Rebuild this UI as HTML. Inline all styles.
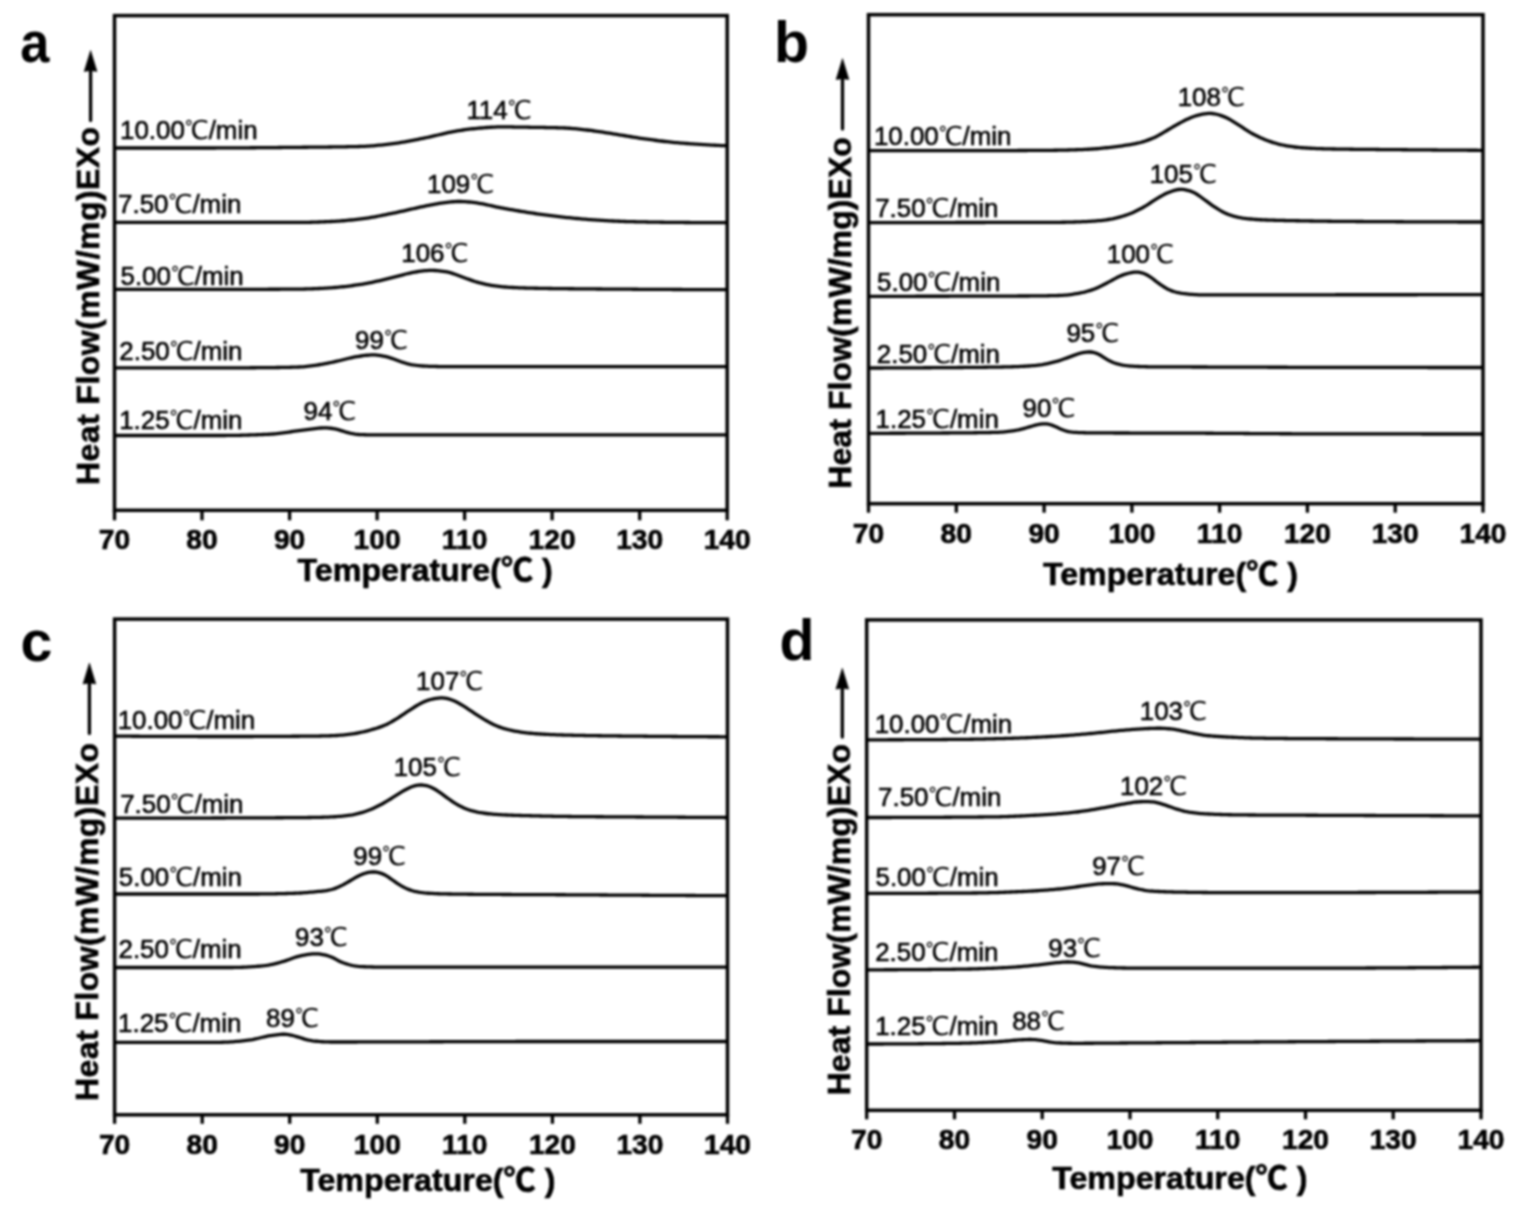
<!DOCTYPE html>
<html lang="en"><head><meta charset="utf-8"><title>DSC heat flow curves</title>
<style>html,body{margin:0;padding:0;background:#fff}body{width:1529px;height:1214px;overflow:hidden}svg{display:block}svg{filter:blur(0.8px)}text{stroke:#000;stroke-width:0.6px;fill:#000;font-family:"Liberation Sans","WenQuanYi Zen Hei",sans-serif}.dg{stroke-width:0}.lab{font-size:25.9px}.tick{font-size:28.2px;font-weight:bold;text-anchor:middle}.ax{font-size:32.2px;font-weight:bold;font-family:"Liberation Sans","Noto Sans CJK SC",sans-serif}.yl{font-size:32.0px;font-weight:bold}.let{font-size:57.3px;font-weight:bold;fill:#000;stroke-width:0}.fr{fill:none;stroke:#000;stroke-width:3.5}.cv{fill:none;stroke:#000;stroke-width:3.3;stroke-linejoin:round;stroke-linecap:butt}.tk{stroke:#000;stroke-width:3.3}.ar{stroke:#000;stroke-width:3.3;stroke-linecap:round}</style></head><body>
<svg width="1529" height="1214" viewBox="0 0 1529 1214">
<rect width="1529" height="1214" fill="#fff"/>
<g id="panel-a">
<path class="cv" d="M115.0,148.00 L117.0,148.00 L119.0,148.00 L121.0,148.00 L123.0,148.00 L125.0,148.00 L127.0,148.00 L129.0,148.00 L131.0,148.00 L133.0,148.00 L135.0,148.00 L137.0,148.00 L139.0,148.00 L141.0,148.00 L143.0,148.00 L145.0,148.00 L147.0,148.00 L149.0,148.00 L151.0,148.00 L153.0,148.00 L155.0,148.00 L157.0,148.00 L159.0,148.00 L161.0,148.00 L163.0,148.00 L165.0,148.00 L167.0,148.00 L169.0,148.00 L171.0,148.00 L173.0,148.00 L175.0,148.00 L177.0,148.00 L179.0,148.00 L181.0,148.00 L183.0,148.00 L185.0,148.00 L187.0,148.00 L189.0,148.00 L191.0,148.00 L193.0,148.00 L195.0,148.00 L197.0,148.00 L199.0,148.00 L201.0,148.00 L203.0,148.00 L205.0,148.00 L207.0,147.99 L209.0,147.99 L211.0,147.99 L213.0,147.98 L215.0,147.98 L217.0,147.97 L219.0,147.96 L221.0,147.95 L223.0,147.94 L225.0,147.94 L227.0,147.93 L229.0,147.91 L231.0,147.90 L233.0,147.89 L235.0,147.88 L237.0,147.87 L239.0,147.85 L241.0,147.84 L243.0,147.82 L245.0,147.81 L247.0,147.79 L249.0,147.78 L251.0,147.76 L253.0,147.75 L255.0,147.73 L257.0,147.71 L259.0,147.69 L261.0,147.68 L263.0,147.66 L265.0,147.64 L267.0,147.62 L269.0,147.60 L271.0,147.58 L273.0,147.56 L275.0,147.55 L277.0,147.53 L279.0,147.51 L281.0,147.49 L283.0,147.47 L285.0,147.45 L287.0,147.43 L289.0,147.41 L291.0,147.39 L293.0,147.37 L295.0,147.35 L297.0,147.33 L299.0,147.31 L301.0,147.29 L303.0,147.27 L305.0,147.25 L307.0,147.23 L309.0,147.22 L311.0,147.20 L313.0,147.18 L315.0,147.16 L317.0,147.14 L319.0,147.12 L321.0,147.10 L323.0,147.08 L325.0,147.06 L327.0,147.04 L329.0,147.01 L331.0,146.99 L333.0,146.96 L335.0,146.94 L337.0,146.91 L339.0,146.88 L341.0,146.85 L343.0,146.82 L345.0,146.78 L347.0,146.75 L349.0,146.71 L351.0,146.67 L353.0,146.63 L355.0,146.59 L357.0,146.54 L359.0,146.49 L361.0,146.43 L363.0,146.37 L365.0,146.29 L367.0,146.20 L369.0,146.08 L371.0,145.94 L373.0,145.79 L375.0,145.62 L377.0,145.43 L379.0,145.23 L381.0,145.02 L383.0,144.80 L385.0,144.57 L387.0,144.34 L389.0,144.10 L391.0,143.85 L393.0,143.60 L395.0,143.34 L397.0,143.07 L399.0,142.78 L401.0,142.47 L403.0,142.15 L405.0,141.81 L407.0,141.45 L409.0,141.09 L411.0,140.71 L413.0,140.32 L415.0,139.93 L417.0,139.54 L419.0,139.14 L421.0,138.74 L423.0,138.34 L425.0,137.93 L427.0,137.51 L429.0,137.09 L431.0,136.64 L433.0,136.18 L435.0,135.72 L437.0,135.24 L439.0,134.76 L441.0,134.28 L443.0,133.81 L445.0,133.34 L447.0,132.89 L449.0,132.46 L451.0,132.04 L453.0,131.65 L455.0,131.28 L457.0,130.94 L459.0,130.61 L461.0,130.30 L463.0,130.00 L465.0,129.72 L467.0,129.45 L469.0,129.19 L471.0,128.96 L473.0,128.74 L475.0,128.54 L477.0,128.35 L479.0,128.17 L481.0,127.99 L483.0,127.82 L485.0,127.66 L487.0,127.50 L489.0,127.36 L491.0,127.23 L493.0,127.12 L495.0,127.04 L497.0,126.97 L499.0,126.93 L501.0,126.92 L503.0,126.91 L505.0,126.92 L507.0,126.93 L509.0,126.95 L511.0,126.97 L513.0,127.00 L515.0,127.03 L517.0,127.06 L519.0,127.09 L521.0,127.12 L523.0,127.16 L525.0,127.19 L527.0,127.22 L529.0,127.26 L531.0,127.29 L533.0,127.32 L535.0,127.35 L537.0,127.38 L539.0,127.41 L541.0,127.44 L543.0,127.47 L545.0,127.50 L547.0,127.53 L549.0,127.57 L551.0,127.60 L553.0,127.65 L555.0,127.69 L557.0,127.74 L559.0,127.79 L561.0,127.85 L563.0,127.92 L565.0,128.01 L567.0,128.11 L569.0,128.24 L571.0,128.39 L573.0,128.55 L575.0,128.73 L577.0,128.93 L579.0,129.13 L581.0,129.34 L583.0,129.56 L585.0,129.78 L587.0,130.01 L589.0,130.24 L591.0,130.48 L593.0,130.74 L595.0,131.02 L597.0,131.30 L599.0,131.60 L601.0,131.91 L603.0,132.22 L605.0,132.54 L607.0,132.85 L609.0,133.17 L611.0,133.49 L613.0,133.80 L615.0,134.12 L617.0,134.43 L619.0,134.76 L621.0,135.09 L623.0,135.42 L625.0,135.75 L627.0,136.08 L629.0,136.42 L631.0,136.75 L633.0,137.07 L635.0,137.39 L637.0,137.71 L639.0,138.02 L641.0,138.32 L643.0,138.61 L645.0,138.89 L647.0,139.17 L649.0,139.44 L651.0,139.72 L653.0,139.98 L655.0,140.25 L657.0,140.51 L659.0,140.77 L661.0,141.01 L663.0,141.26 L665.0,141.49 L667.0,141.72 L669.0,141.94 L671.0,142.15 L673.0,142.35 L675.0,142.54 L677.0,142.71 L679.0,142.89 L681.0,143.05 L683.0,143.21 L685.0,143.37 L687.0,143.52 L689.0,143.66 L691.0,143.80 L693.0,143.94 L695.0,144.07 L697.0,144.20 L699.0,144.33 L701.0,144.45 L703.0,144.57 L705.0,144.69 L707.0,144.80 L709.0,144.92 L711.0,145.03 L713.0,145.13 L715.0,145.24 L717.0,145.34 L719.0,145.44 L721.0,145.53 L723.0,145.62 L725.0,145.69 L727.0,145.75"/>
<path class="cv" d="M115.0,222.30 L117.0,222.30 L119.0,222.31 L121.0,222.31 L123.0,222.31 L125.0,222.31 L127.0,222.31 L129.0,222.32 L131.0,222.32 L133.0,222.32 L135.0,222.32 L137.0,222.33 L139.0,222.33 L141.0,222.33 L143.0,222.33 L145.0,222.34 L147.0,222.34 L149.0,222.34 L151.0,222.34 L153.0,222.34 L155.0,222.35 L157.0,222.35 L159.0,222.35 L161.0,222.35 L163.0,222.35 L165.0,222.36 L167.0,222.36 L169.0,222.36 L171.0,222.36 L173.0,222.36 L175.0,222.37 L177.0,222.37 L179.0,222.37 L181.0,222.37 L183.0,222.37 L185.0,222.37 L187.0,222.38 L189.0,222.38 L191.0,222.38 L193.0,222.38 L195.0,222.38 L197.0,222.38 L199.0,222.38 L201.0,222.38 L203.0,222.39 L205.0,222.39 L207.0,222.39 L209.0,222.39 L211.0,222.39 L213.0,222.39 L215.0,222.39 L217.0,222.39 L219.0,222.39 L221.0,222.39 L223.0,222.40 L225.0,222.40 L227.0,222.40 L229.0,222.40 L231.0,222.40 L233.0,222.40 L235.0,222.40 L237.0,222.40 L239.0,222.40 L241.0,222.40 L243.0,222.40 L245.0,222.40 L247.0,222.40 L249.0,222.40 L251.0,222.40 L253.0,222.40 L255.0,222.40 L257.0,222.40 L259.0,222.40 L261.0,222.40 L263.0,222.40 L265.0,222.40 L267.0,222.40 L269.0,222.40 L271.0,222.40 L273.0,222.40 L275.0,222.40 L277.0,222.40 L279.0,222.40 L281.0,222.40 L283.0,222.40 L285.0,222.40 L287.0,222.40 L289.0,222.40 L291.0,222.40 L293.0,222.40 L295.0,222.40 L297.0,222.40 L299.0,222.40 L301.0,222.39 L303.0,222.38 L305.0,222.36 L307.0,222.33 L309.0,222.29 L311.0,222.25 L313.0,222.19 L315.0,222.13 L317.0,222.07 L319.0,222.00 L321.0,221.93 L323.0,221.85 L325.0,221.77 L327.0,221.68 L329.0,221.60 L331.0,221.51 L333.0,221.41 L335.0,221.30 L337.0,221.18 L339.0,221.04 L341.0,220.89 L343.0,220.74 L345.0,220.56 L347.0,220.38 L349.0,220.19 L351.0,219.99 L353.0,219.78 L355.0,219.57 L357.0,219.35 L359.0,219.12 L361.0,218.88 L363.0,218.63 L365.0,218.37 L367.0,218.09 L369.0,217.78 L371.0,217.46 L373.0,217.12 L375.0,216.76 L377.0,216.39 L379.0,216.00 L381.0,215.61 L383.0,215.21 L385.0,214.81 L387.0,214.40 L389.0,213.99 L391.0,213.59 L393.0,213.18 L395.0,212.77 L397.0,212.35 L399.0,211.92 L401.0,211.48 L403.0,211.04 L405.0,210.59 L407.0,210.13 L409.0,209.67 L411.0,209.21 L413.0,208.75 L415.0,208.29 L417.0,207.85 L419.0,207.41 L421.0,206.98 L423.0,206.56 L425.0,206.14 L427.0,205.74 L429.0,205.33 L431.0,204.93 L433.0,204.53 L435.0,204.15 L437.0,203.78 L439.0,203.44 L441.0,203.13 L443.0,202.85 L445.0,202.60 L447.0,202.36 L449.0,202.14 L451.0,201.94 L453.0,201.76 L455.0,201.62 L457.0,201.52 L459.0,201.47 L461.0,201.48 L463.0,201.55 L465.0,201.66 L467.0,201.82 L469.0,202.01 L471.0,202.22 L473.0,202.45 L475.0,202.69 L477.0,202.96 L479.0,203.26 L481.0,203.60 L483.0,203.98 L485.0,204.39 L487.0,204.82 L489.0,205.26 L491.0,205.71 L493.0,206.16 L495.0,206.60 L497.0,207.02 L499.0,207.43 L501.0,207.81 L503.0,208.19 L505.0,208.55 L507.0,208.92 L509.0,209.27 L511.0,209.63 L513.0,209.98 L515.0,210.32 L517.0,210.67 L519.0,211.00 L521.0,211.33 L523.0,211.66 L525.0,211.98 L527.0,212.29 L529.0,212.60 L531.0,212.90 L533.0,213.20 L535.0,213.50 L537.0,213.78 L539.0,214.07 L541.0,214.35 L543.0,214.63 L545.0,214.90 L547.0,215.17 L549.0,215.44 L551.0,215.69 L553.0,215.95 L555.0,216.19 L557.0,216.43 L559.0,216.66 L561.0,216.89 L563.0,217.10 L565.0,217.32 L567.0,217.53 L569.0,217.73 L571.0,217.93 L573.0,218.13 L575.0,218.32 L577.0,218.51 L579.0,218.70 L581.0,218.87 L583.0,219.05 L585.0,219.21 L587.0,219.37 L589.0,219.53 L591.0,219.67 L593.0,219.81 L595.0,219.95 L597.0,220.08 L599.0,220.21 L601.0,220.33 L603.0,220.45 L605.0,220.57 L607.0,220.68 L609.0,220.80 L611.0,220.90 L613.0,221.00 L615.0,221.10 L617.0,221.19 L619.0,221.27 L621.0,221.35 L623.0,221.42 L625.0,221.48 L627.0,221.54 L629.0,221.59 L631.0,221.64 L633.0,221.69 L635.0,221.74 L637.0,221.79 L639.0,221.83 L641.0,221.88 L643.0,221.92 L645.0,221.96 L647.0,222.00 L649.0,222.04 L651.0,222.07 L653.0,222.11 L655.0,222.14 L657.0,222.17 L659.0,222.20 L661.0,222.23 L663.0,222.26 L665.0,222.29 L667.0,222.31 L669.0,222.33 L671.0,222.35 L673.0,222.37 L675.0,222.39 L677.0,222.41 L679.0,222.43 L681.0,222.45 L683.0,222.46 L685.0,222.48 L687.0,222.50 L689.0,222.51 L691.0,222.53 L693.0,222.55 L695.0,222.56 L697.0,222.58 L699.0,222.59 L701.0,222.60 L703.0,222.62 L705.0,222.63 L707.0,222.64 L709.0,222.65 L711.0,222.66 L713.0,222.67 L715.0,222.68 L717.0,222.68 L719.0,222.69 L721.0,222.69 L723.0,222.70 L725.0,222.70 L727.0,222.70"/>
<path class="cv" d="M115.0,289.30 L117.0,289.30 L119.0,289.30 L121.0,289.30 L123.0,289.30 L125.0,289.30 L127.0,289.30 L129.0,289.30 L131.0,289.30 L133.0,289.30 L135.0,289.30 L137.0,289.30 L139.0,289.30 L141.0,289.30 L143.0,289.30 L145.0,289.30 L147.0,289.30 L149.0,289.30 L151.0,289.30 L153.0,289.30 L155.0,289.30 L157.0,289.30 L159.0,289.30 L161.0,289.30 L163.0,289.30 L165.0,289.30 L167.0,289.30 L169.0,289.30 L171.0,289.30 L173.0,289.30 L175.0,289.30 L177.0,289.30 L179.0,289.30 L181.0,289.30 L183.0,289.30 L185.0,289.30 L187.0,289.30 L189.0,289.30 L191.0,289.30 L193.0,289.30 L195.0,289.30 L197.0,289.30 L199.0,289.30 L201.0,289.30 L203.0,289.30 L205.0,289.30 L207.0,289.30 L209.0,289.30 L211.0,289.30 L213.0,289.30 L215.0,289.30 L217.0,289.30 L219.0,289.30 L221.0,289.30 L223.0,289.30 L225.0,289.30 L227.0,289.30 L229.0,289.30 L231.0,289.30 L233.0,289.30 L235.0,289.30 L237.0,289.30 L239.0,289.30 L241.0,289.30 L243.0,289.30 L245.0,289.30 L247.0,289.30 L249.0,289.30 L251.0,289.30 L253.0,289.30 L255.0,289.30 L257.0,289.30 L259.0,289.29 L261.0,289.29 L263.0,289.29 L265.0,289.28 L267.0,289.28 L269.0,289.27 L271.0,289.26 L273.0,289.26 L275.0,289.25 L277.0,289.24 L279.0,289.23 L281.0,289.22 L283.0,289.21 L285.0,289.20 L287.0,289.19 L289.0,289.18 L291.0,289.16 L293.0,289.15 L295.0,289.14 L297.0,289.12 L299.0,289.10 L301.0,289.08 L303.0,289.05 L305.0,289.01 L307.0,288.96 L309.0,288.91 L311.0,288.84 L313.0,288.76 L315.0,288.68 L317.0,288.59 L319.0,288.49 L321.0,288.39 L323.0,288.28 L325.0,288.17 L327.0,288.06 L329.0,287.94 L331.0,287.81 L333.0,287.67 L335.0,287.52 L337.0,287.35 L339.0,287.17 L341.0,286.97 L343.0,286.76 L345.0,286.53 L347.0,286.29 L349.0,286.04 L351.0,285.78 L353.0,285.51 L355.0,285.22 L357.0,284.94 L359.0,284.64 L361.0,284.33 L363.0,284.02 L365.0,283.68 L367.0,283.32 L369.0,282.94 L371.0,282.54 L373.0,282.12 L375.0,281.68 L377.0,281.23 L379.0,280.77 L381.0,280.29 L383.0,279.81 L385.0,279.33 L387.0,278.85 L389.0,278.37 L391.0,277.89 L393.0,277.40 L395.0,276.91 L397.0,276.41 L399.0,275.89 L401.0,275.35 L403.0,274.81 L405.0,274.28 L407.0,273.76 L409.0,273.28 L411.0,272.83 L413.0,272.43 L415.0,272.07 L417.0,271.75 L419.0,271.46 L421.0,271.19 L423.0,270.94 L425.0,270.72 L427.0,270.55 L429.0,270.44 L431.0,270.38 L433.0,270.40 L435.0,270.48 L437.0,270.62 L439.0,270.81 L441.0,271.04 L443.0,271.31 L445.0,271.61 L447.0,271.97 L449.0,272.41 L451.0,272.94 L453.0,273.57 L455.0,274.27 L457.0,275.02 L459.0,275.77 L461.0,276.52 L463.0,277.25 L465.0,277.97 L467.0,278.69 L469.0,279.41 L471.0,280.12 L473.0,280.82 L475.0,281.50 L477.0,282.12 L479.0,282.70 L481.0,283.22 L483.0,283.70 L485.0,284.14 L487.0,284.55 L489.0,284.94 L491.0,285.30 L493.0,285.63 L495.0,285.93 L497.0,286.20 L499.0,286.43 L501.0,286.64 L503.0,286.82 L505.0,286.99 L507.0,287.14 L509.0,287.28 L511.0,287.40 L513.0,287.52 L515.0,287.62 L517.0,287.71 L519.0,287.79 L521.0,287.86 L523.0,287.92 L525.0,287.98 L527.0,288.04 L529.0,288.09 L531.0,288.14 L533.0,288.19 L535.0,288.23 L537.0,288.27 L539.0,288.31 L541.0,288.35 L543.0,288.38 L545.0,288.42 L547.0,288.45 L549.0,288.48 L551.0,288.51 L553.0,288.53 L555.0,288.56 L557.0,288.59 L559.0,288.61 L561.0,288.64 L563.0,288.66 L565.0,288.68 L567.0,288.71 L569.0,288.73 L571.0,288.75 L573.0,288.77 L575.0,288.79 L577.0,288.81 L579.0,288.83 L581.0,288.85 L583.0,288.87 L585.0,288.88 L587.0,288.90 L589.0,288.92 L591.0,288.94 L593.0,288.95 L595.0,288.97 L597.0,288.98 L599.0,289.00 L601.0,289.01 L603.0,289.03 L605.0,289.04 L607.0,289.06 L609.0,289.07 L611.0,289.09 L613.0,289.10 L615.0,289.11 L617.0,289.13 L619.0,289.14 L621.0,289.16 L623.0,289.17 L625.0,289.18 L627.0,289.20 L629.0,289.21 L631.0,289.22 L633.0,289.24 L635.0,289.25 L637.0,289.26 L639.0,289.28 L641.0,289.29 L643.0,289.30 L645.0,289.31 L647.0,289.33 L649.0,289.34 L651.0,289.35 L653.0,289.36 L655.0,289.38 L657.0,289.39 L659.0,289.40 L661.0,289.41 L663.0,289.42 L665.0,289.44 L667.0,289.45 L669.0,289.46 L671.0,289.47 L673.0,289.48 L675.0,289.49 L677.0,289.50 L679.0,289.51 L681.0,289.52 L683.0,289.53 L685.0,289.54 L687.0,289.55 L689.0,289.56 L691.0,289.57 L693.0,289.58 L695.0,289.59 L697.0,289.60 L699.0,289.61 L701.0,289.61 L703.0,289.62 L705.0,289.63 L707.0,289.64 L709.0,289.64 L711.0,289.65 L713.0,289.66 L715.0,289.67 L717.0,289.67 L719.0,289.68 L721.0,289.68 L723.0,289.69 L725.0,289.69 L727.0,289.70"/>
<path class="cv" d="M115.0,367.90 L117.0,367.90 L119.0,367.90 L121.0,367.90 L123.0,367.90 L125.0,367.90 L127.0,367.90 L129.0,367.90 L131.0,367.90 L133.0,367.90 L135.0,367.90 L137.0,367.90 L139.0,367.90 L141.0,367.90 L143.0,367.90 L145.0,367.90 L147.0,367.90 L149.0,367.90 L151.0,367.90 L153.0,367.90 L155.0,367.90 L157.0,367.90 L159.0,367.90 L161.0,367.90 L163.0,367.90 L165.0,367.90 L167.0,367.90 L169.0,367.90 L171.0,367.90 L173.0,367.90 L175.0,367.90 L177.0,367.90 L179.0,367.90 L181.0,367.90 L183.0,367.90 L185.0,367.90 L187.0,367.90 L189.0,367.90 L191.0,367.90 L193.0,367.90 L195.0,367.90 L197.0,367.90 L199.0,367.90 L201.0,367.90 L203.0,367.90 L205.0,367.90 L207.0,367.90 L209.0,367.90 L211.0,367.90 L213.0,367.90 L215.0,367.90 L217.0,367.90 L219.0,367.90 L221.0,367.90 L223.0,367.90 L225.0,367.89 L227.0,367.89 L229.0,367.89 L231.0,367.88 L233.0,367.87 L235.0,367.86 L237.0,367.86 L239.0,367.85 L241.0,367.83 L243.0,367.82 L245.0,367.81 L247.0,367.80 L249.0,367.78 L251.0,367.77 L253.0,367.75 L255.0,367.74 L257.0,367.72 L259.0,367.70 L261.0,367.68 L263.0,367.67 L265.0,367.65 L267.0,367.63 L269.0,367.61 L271.0,367.59 L273.0,367.57 L275.0,367.54 L277.0,367.52 L279.0,367.49 L281.0,367.46 L283.0,367.43 L285.0,367.40 L287.0,367.36 L289.0,367.31 L291.0,367.27 L293.0,367.21 L295.0,367.16 L297.0,367.09 L299.0,367.01 L301.0,366.92 L303.0,366.79 L305.0,366.62 L307.0,366.42 L309.0,366.18 L311.0,365.93 L313.0,365.65 L315.0,365.36 L317.0,365.06 L319.0,364.75 L321.0,364.43 L323.0,364.09 L325.0,363.72 L327.0,363.33 L329.0,362.93 L331.0,362.51 L333.0,362.09 L335.0,361.66 L337.0,361.21 L339.0,360.75 L341.0,360.27 L343.0,359.77 L345.0,359.26 L347.0,358.75 L349.0,358.25 L351.0,357.78 L353.0,357.35 L355.0,356.97 L357.0,356.62 L359.0,356.30 L361.0,356.00 L363.0,355.72 L365.0,355.46 L367.0,355.24 L369.0,355.06 L371.0,354.95 L373.0,354.91 L375.0,354.96 L377.0,355.10 L379.0,355.34 L381.0,355.66 L383.0,356.04 L385.0,356.46 L387.0,356.93 L389.0,357.46 L391.0,358.08 L393.0,358.78 L395.0,359.53 L397.0,360.31 L399.0,361.07 L401.0,361.79 L403.0,362.44 L405.0,363.03 L407.0,363.58 L409.0,364.08 L411.0,364.53 L413.0,364.91 L415.0,365.22 L417.0,365.47 L419.0,365.67 L421.0,365.84 L423.0,365.99 L425.0,366.12 L427.0,366.22 L429.0,366.31 L431.0,366.37 L433.0,366.42 L435.0,366.47 L437.0,366.51 L439.0,366.54 L441.0,366.57 L443.0,366.60 L445.0,366.62 L447.0,366.65 L449.0,366.66 L451.0,366.68 L453.0,366.69 L455.0,366.69 L457.0,366.70 L459.0,366.70 L461.0,366.70 L463.0,366.70 L465.0,366.70 L467.0,366.70 L469.0,366.70 L471.0,366.70 L473.0,366.70 L475.0,366.70 L477.0,366.70 L479.0,366.70 L481.0,366.70 L483.0,366.70 L485.0,366.70 L487.0,366.70 L489.0,366.70 L491.0,366.70 L493.0,366.70 L495.0,366.70 L497.0,366.70 L499.0,366.70 L501.0,366.70 L503.0,366.70 L505.0,366.70 L507.0,366.70 L509.0,366.70 L511.0,366.70 L513.0,366.70 L515.0,366.70 L517.0,366.70 L519.0,366.70 L521.0,366.70 L523.0,366.70 L525.0,366.70 L527.0,366.70 L529.0,366.70 L531.0,366.70 L533.0,366.70 L535.0,366.70 L537.0,366.70 L539.0,366.70 L541.0,366.70 L543.0,366.70 L545.0,366.70 L547.0,366.70 L549.0,366.70 L551.0,366.70 L553.0,366.70 L555.0,366.70 L557.0,366.70 L559.0,366.70 L561.0,366.70 L563.0,366.70 L565.0,366.70 L567.0,366.70 L569.0,366.70 L571.0,366.70 L573.0,366.70 L575.0,366.70 L577.0,366.70 L579.0,366.70 L581.0,366.70 L583.0,366.70 L585.0,366.70 L587.0,366.70 L589.0,366.70 L591.0,366.70 L593.0,366.70 L595.0,366.70 L597.0,366.70 L599.0,366.70 L601.0,366.70 L603.0,366.70 L605.0,366.70 L607.0,366.70 L609.0,366.70 L611.0,366.70 L613.0,366.70 L615.0,366.70 L617.0,366.70 L619.0,366.70 L621.0,366.70 L623.0,366.70 L625.0,366.70 L627.0,366.70 L629.0,366.70 L631.0,366.70 L633.0,366.70 L635.0,366.70 L637.0,366.70 L639.0,366.70 L641.0,366.70 L643.0,366.70 L645.0,366.70 L647.0,366.70 L649.0,366.70 L651.0,366.70 L653.0,366.70 L655.0,366.70 L657.0,366.70 L659.0,366.70 L661.0,366.70 L663.0,366.70 L665.0,366.70 L667.0,366.70 L669.0,366.70 L671.0,366.70 L673.0,366.70 L675.0,366.70 L677.0,366.70 L679.0,366.70 L681.0,366.70 L683.0,366.70 L685.0,366.70 L687.0,366.70 L689.0,366.70 L691.0,366.70 L693.0,366.70 L695.0,366.70 L697.0,366.70 L699.0,366.70 L701.0,366.70 L703.0,366.70 L705.0,366.70 L707.0,366.70 L709.0,366.70 L711.0,366.70 L713.0,366.70 L715.0,366.70 L717.0,366.70 L719.0,366.70 L721.0,366.70 L723.0,366.70 L725.0,366.70 L727.0,366.70"/>
<path class="cv" d="M115.0,435.50 L117.0,435.50 L119.0,435.50 L121.0,435.50 L123.0,435.50 L125.0,435.50 L127.0,435.50 L129.0,435.50 L131.0,435.50 L133.0,435.50 L135.0,435.50 L137.0,435.50 L139.0,435.50 L141.0,435.50 L143.0,435.50 L145.0,435.50 L147.0,435.50 L149.0,435.50 L151.0,435.50 L153.0,435.50 L155.0,435.50 L157.0,435.50 L159.0,435.50 L161.0,435.50 L163.0,435.50 L165.0,435.50 L167.0,435.50 L169.0,435.50 L171.0,435.50 L173.0,435.50 L175.0,435.50 L177.0,435.50 L179.0,435.50 L181.0,435.50 L183.0,435.50 L185.0,435.50 L187.0,435.50 L189.0,435.50 L191.0,435.50 L193.0,435.50 L195.0,435.50 L197.0,435.50 L199.0,435.50 L201.0,435.50 L203.0,435.50 L205.0,435.50 L207.0,435.50 L209.0,435.50 L211.0,435.50 L213.0,435.50 L215.0,435.50 L217.0,435.50 L219.0,435.50 L221.0,435.50 L223.0,435.49 L225.0,435.48 L227.0,435.46 L229.0,435.44 L231.0,435.42 L233.0,435.39 L235.0,435.36 L237.0,435.32 L239.0,435.28 L241.0,435.23 L243.0,435.18 L245.0,435.13 L247.0,435.07 L249.0,435.01 L251.0,434.95 L253.0,434.88 L255.0,434.81 L257.0,434.74 L259.0,434.66 L261.0,434.58 L263.0,434.50 L265.0,434.42 L267.0,434.33 L269.0,434.23 L271.0,434.12 L273.0,433.98 L275.0,433.82 L277.0,433.62 L279.0,433.40 L281.0,433.16 L283.0,432.90 L285.0,432.62 L287.0,432.34 L289.0,432.05 L291.0,431.75 L293.0,431.46 L295.0,431.18 L297.0,430.90 L299.0,430.64 L301.0,430.38 L303.0,430.13 L305.0,429.89 L307.0,429.65 L309.0,429.41 L311.0,429.17 L313.0,428.92 L315.0,428.67 L317.0,428.42 L319.0,428.19 L321.0,427.99 L323.0,427.87 L325.0,427.82 L327.0,427.88 L329.0,428.03 L331.0,428.25 L333.0,428.55 L335.0,428.93 L337.0,429.39 L339.0,429.95 L341.0,430.56 L343.0,431.19 L345.0,431.79 L347.0,432.33 L349.0,432.83 L351.0,433.28 L353.0,433.68 L355.0,434.03 L357.0,434.30 L359.0,434.49 L361.0,434.61 L363.0,434.68 L365.0,434.74 L367.0,434.78 L369.0,434.82 L371.0,434.85 L373.0,434.87 L375.0,434.88 L377.0,434.89 L379.0,434.90 L381.0,434.90 L383.0,434.90 L385.0,434.90 L387.0,434.90 L389.0,434.90 L391.0,434.90 L393.0,434.90 L395.0,434.90 L397.0,434.90 L399.0,434.90 L401.0,434.90 L403.0,434.90 L405.0,434.90 L407.0,434.90 L409.0,434.90 L411.0,434.90 L413.0,434.90 L415.0,434.90 L417.0,434.90 L419.0,434.90 L421.0,434.90 L423.0,434.90 L425.0,434.90 L427.0,434.90 L429.0,434.90 L431.0,434.90 L433.0,434.90 L435.0,434.90 L437.0,434.90 L439.0,434.90 L441.0,434.90 L443.0,434.90 L445.0,434.90 L447.0,434.90 L449.0,434.90 L451.0,434.90 L453.0,434.90 L455.0,434.90 L457.0,434.90 L459.0,434.90 L461.0,434.90 L463.0,434.90 L465.0,434.90 L467.0,434.90 L469.0,434.90 L471.0,434.90 L473.0,434.90 L475.0,434.90 L477.0,434.90 L479.0,434.90 L481.0,434.90 L483.0,434.90 L485.0,434.90 L487.0,434.90 L489.0,434.90 L491.0,434.90 L493.0,434.90 L495.0,434.90 L497.0,434.90 L499.0,434.90 L501.0,434.90 L503.0,434.90 L505.0,434.90 L507.0,434.89 L509.0,434.89 L511.0,434.89 L513.0,434.89 L515.0,434.89 L517.0,434.89 L519.0,434.89 L521.0,434.89 L523.0,434.89 L525.0,434.89 L527.0,434.89 L529.0,434.89 L531.0,434.89 L533.0,434.89 L535.0,434.89 L537.0,434.89 L539.0,434.89 L541.0,434.89 L543.0,434.89 L545.0,434.89 L547.0,434.89 L549.0,434.89 L551.0,434.89 L553.0,434.89 L555.0,434.89 L557.0,434.89 L559.0,434.89 L561.0,434.89 L563.0,434.89 L565.0,434.88 L567.0,434.88 L569.0,434.88 L571.0,434.88 L573.0,434.88 L575.0,434.88 L577.0,434.88 L579.0,434.88 L581.0,434.88 L583.0,434.88 L585.0,434.88 L587.0,434.88 L589.0,434.88 L591.0,434.88 L593.0,434.88 L595.0,434.88 L597.0,434.88 L599.0,434.87 L601.0,434.87 L603.0,434.87 L605.0,434.87 L607.0,434.87 L609.0,434.87 L611.0,434.87 L613.0,434.87 L615.0,434.87 L617.0,434.87 L619.0,434.87 L621.0,434.87 L623.0,434.87 L625.0,434.86 L627.0,434.86 L629.0,434.86 L631.0,434.86 L633.0,434.86 L635.0,434.86 L637.0,434.86 L639.0,434.86 L641.0,434.86 L643.0,434.86 L645.0,434.86 L647.0,434.85 L649.0,434.85 L651.0,434.85 L653.0,434.85 L655.0,434.85 L657.0,434.85 L659.0,434.85 L661.0,434.85 L663.0,434.85 L665.0,434.84 L667.0,434.84 L669.0,434.84 L671.0,434.84 L673.0,434.84 L675.0,434.84 L677.0,434.84 L679.0,434.84 L681.0,434.83 L683.0,434.83 L685.0,434.83 L687.0,434.83 L689.0,434.83 L691.0,434.83 L693.0,434.83 L695.0,434.83 L697.0,434.82 L699.0,434.82 L701.0,434.82 L703.0,434.82 L705.0,434.82 L707.0,434.82 L709.0,434.81 L711.0,434.81 L713.0,434.81 L715.0,434.81 L717.0,434.81 L719.0,434.81 L721.0,434.81 L723.0,434.80 L725.0,434.80 L727.0,434.80"/>
<rect class="fr" x="114.5" y="15.6" width="612.7" height="494.7"/>
<line class="tk" x1="114.5" y1="510.3" x2="114.5" y2="520.3"/>
<text class="tick" x="114.5" y="549.3">70</text>
<line class="tk" x1="202.0" y1="510.3" x2="202.0" y2="520.3"/>
<text class="tick" x="202.0" y="549.3">80</text>
<line class="tk" x1="289.6" y1="510.3" x2="289.6" y2="520.3"/>
<text class="tick" x="289.6" y="549.3">90</text>
<line class="tk" x1="377.1" y1="510.3" x2="377.1" y2="520.3"/>
<text class="tick" x="377.1" y="549.3">100</text>
<line class="tk" x1="464.6" y1="510.3" x2="464.6" y2="520.3"/>
<text class="tick" x="464.6" y="549.3">110</text>
<line class="tk" x1="552.1" y1="510.3" x2="552.1" y2="520.3"/>
<text class="tick" x="552.1" y="549.3">120</text>
<line class="tk" x1="639.7" y1="510.3" x2="639.7" y2="520.3"/>
<text class="tick" x="639.7" y="549.3">130</text>
<line class="tk" x1="727.2" y1="510.3" x2="727.2" y2="520.3"/>
<text class="tick" x="727.2" y="549.3">140</text>
<text class="lab" x="120.0" y="139.1">10.00<tspan class="dg">℃</tspan>/min</text>
<text class="lab" x="466.4" y="119.1">114<tspan class="dg">℃</tspan></text>
<text class="lab" x="118.1" y="212.9">7.50<tspan class="dg">℃</tspan>/min</text>
<text class="lab" x="427.0" y="192.7">109<tspan class="dg">℃</tspan></text>
<text class="lab" x="120.5" y="284.7">5.00<tspan class="dg">℃</tspan>/min</text>
<text class="lab" x="401.3" y="261.5">106<tspan class="dg">℃</tspan></text>
<text class="lab" x="119.3" y="359.7">2.50<tspan class="dg">℃</tspan>/min</text>
<text class="lab" x="355.1" y="348.5">99<tspan class="dg">℃</tspan></text>
<text class="lab" x="119.2" y="429.0">1.25<tspan class="dg">℃</tspan>/min</text>
<text class="lab" x="303.5" y="420.2">94<tspan class="dg">℃</tspan></text>
<text class="ax" x="297.6" y="581.0">Temperature(℃ )</text>
<text class="yl" transform="translate(99.3,485.0) rotate(-90)" textLength="358.1" lengthAdjust="spacing">Heat Flow(mW/mg)EXo</text>
<line class="ar" x1="90.6" y1="120.4" x2="90.6" y2="64.5"/>
<path d="M90.6,50.5 L97.0,71.4 L90.6,70.6 L84.2,71.4 Z" fill="#000" stroke="#000" stroke-width="0.6" stroke-linejoin="round"/>
<text class="let" transform="translate(20.2,62.3) scale(0.915,1)">a</text>
</g>
<g id="panel-b">
<path class="cv" d="M868.5,150.60 L870.5,150.60 L872.5,150.60 L874.5,150.60 L876.5,150.60 L878.5,150.60 L880.5,150.60 L882.5,150.60 L884.5,150.60 L886.5,150.60 L888.5,150.60 L890.5,150.60 L892.5,150.60 L894.5,150.60 L896.5,150.60 L898.5,150.60 L900.5,150.60 L902.5,150.60 L904.5,150.60 L906.5,150.60 L908.5,150.60 L910.5,150.60 L912.5,150.60 L914.5,150.60 L916.5,150.60 L918.5,150.60 L920.5,150.60 L922.5,150.60 L924.5,150.60 L926.5,150.60 L928.5,150.60 L930.5,150.60 L932.5,150.60 L934.5,150.60 L936.5,150.60 L938.5,150.60 L940.5,150.60 L942.5,150.60 L944.5,150.60 L946.5,150.60 L948.5,150.60 L950.5,150.60 L952.5,150.60 L954.5,150.60 L956.5,150.60 L958.5,150.60 L960.5,150.60 L962.5,150.60 L964.5,150.60 L966.5,150.60 L968.5,150.60 L970.5,150.60 L972.5,150.60 L974.5,150.60 L976.5,150.60 L978.5,150.60 L980.5,150.60 L982.5,150.60 L984.5,150.60 L986.5,150.60 L988.5,150.60 L990.5,150.60 L992.5,150.60 L994.5,150.60 L996.5,150.60 L998.5,150.59 L1000.5,150.59 L1002.5,150.59 L1004.5,150.58 L1006.5,150.57 L1008.5,150.57 L1010.5,150.56 L1012.5,150.55 L1014.5,150.54 L1016.5,150.53 L1018.5,150.52 L1020.5,150.51 L1022.5,150.50 L1024.5,150.49 L1026.5,150.48 L1028.5,150.47 L1030.5,150.46 L1032.5,150.45 L1034.5,150.43 L1036.5,150.42 L1038.5,150.41 L1040.5,150.40 L1042.5,150.38 L1044.5,150.37 L1046.5,150.35 L1048.5,150.33 L1050.5,150.31 L1052.5,150.29 L1054.5,150.27 L1056.5,150.25 L1058.5,150.22 L1060.5,150.19 L1062.5,150.15 L1064.5,150.11 L1066.5,150.07 L1068.5,150.02 L1070.5,149.96 L1072.5,149.90 L1074.5,149.84 L1076.5,149.77 L1078.5,149.69 L1080.5,149.62 L1082.5,149.53 L1084.5,149.44 L1086.5,149.35 L1088.5,149.25 L1090.5,149.14 L1092.5,149.02 L1094.5,148.88 L1096.5,148.73 L1098.5,148.56 L1100.5,148.38 L1102.5,148.18 L1104.5,147.98 L1106.5,147.76 L1108.5,147.53 L1110.5,147.29 L1112.5,147.05 L1114.5,146.81 L1116.5,146.55 L1118.5,146.30 L1120.5,146.04 L1122.5,145.77 L1124.5,145.49 L1126.5,145.20 L1128.5,144.89 L1130.5,144.56 L1132.5,144.21 L1134.5,143.84 L1136.5,143.43 L1138.5,142.98 L1140.5,142.48 L1142.5,141.93 L1144.5,141.31 L1146.5,140.63 L1148.5,139.90 L1150.5,139.12 L1152.5,138.29 L1154.5,137.40 L1156.5,136.44 L1158.5,135.40 L1160.5,134.29 L1162.5,133.12 L1164.5,131.92 L1166.5,130.72 L1168.5,129.53 L1170.5,128.35 L1172.5,127.17 L1174.5,126.00 L1176.5,124.84 L1178.5,123.72 L1180.5,122.63 L1182.5,121.59 L1184.5,120.58 L1186.5,119.60 L1188.5,118.66 L1190.5,117.78 L1192.5,116.98 L1194.5,116.27 L1196.5,115.66 L1198.5,115.12 L1200.5,114.64 L1202.5,114.22 L1204.5,113.85 L1206.5,113.58 L1208.5,113.42 L1210.5,113.39 L1212.5,113.52 L1214.5,113.81 L1216.5,114.24 L1218.5,114.78 L1220.5,115.41 L1222.5,116.10 L1224.5,116.88 L1226.5,117.76 L1228.5,118.77 L1230.5,119.89 L1232.5,121.10 L1234.5,122.35 L1236.5,123.62 L1238.5,124.89 L1240.5,126.18 L1242.5,127.49 L1244.5,128.81 L1246.5,130.11 L1248.5,131.37 L1250.5,132.58 L1252.5,133.71 L1254.5,134.79 L1256.5,135.81 L1258.5,136.79 L1260.5,137.72 L1262.5,138.59 L1264.5,139.42 L1266.5,140.20 L1268.5,140.94 L1270.5,141.65 L1272.5,142.32 L1274.5,142.95 L1276.5,143.53 L1278.5,144.07 L1280.5,144.55 L1282.5,144.99 L1284.5,145.39 L1286.5,145.77 L1288.5,146.12 L1290.5,146.44 L1292.5,146.74 L1294.5,147.01 L1296.5,147.24 L1298.5,147.44 L1300.5,147.61 L1302.5,147.76 L1304.5,147.90 L1306.5,148.02 L1308.5,148.14 L1310.5,148.25 L1312.5,148.35 L1314.5,148.44 L1316.5,148.53 L1318.5,148.61 L1320.5,148.68 L1322.5,148.75 L1324.5,148.80 L1326.5,148.85 L1328.5,148.90 L1330.5,148.94 L1332.5,148.98 L1334.5,149.01 L1336.5,149.05 L1338.5,149.08 L1340.5,149.11 L1342.5,149.14 L1344.5,149.16 L1346.5,149.19 L1348.5,149.21 L1350.5,149.24 L1352.5,149.26 L1354.5,149.28 L1356.5,149.30 L1358.5,149.32 L1360.5,149.34 L1362.5,149.36 L1364.5,149.38 L1366.5,149.40 L1368.5,149.41 L1370.5,149.43 L1372.5,149.45 L1374.5,149.47 L1376.5,149.49 L1378.5,149.51 L1380.5,149.53 L1382.5,149.54 L1384.5,149.56 L1386.5,149.58 L1388.5,149.60 L1390.5,149.62 L1392.5,149.64 L1394.5,149.66 L1396.5,149.68 L1398.5,149.69 L1400.5,149.71 L1402.5,149.73 L1404.5,149.75 L1406.5,149.77 L1408.5,149.78 L1410.5,149.80 L1412.5,149.82 L1414.5,149.84 L1416.5,149.85 L1418.5,149.87 L1420.5,149.89 L1422.5,149.90 L1424.5,149.92 L1426.5,149.94 L1428.5,149.95 L1430.5,149.97 L1432.5,149.98 L1434.5,150.00 L1436.5,150.01 L1438.5,150.03 L1440.5,150.04 L1442.5,150.06 L1444.5,150.07 L1446.5,150.09 L1448.5,150.10 L1450.5,150.11 L1452.5,150.13 L1454.5,150.14 L1456.5,150.15 L1458.5,150.17 L1460.5,150.18 L1462.5,150.19 L1464.5,150.20 L1466.5,150.21 L1468.5,150.23 L1470.5,150.24 L1472.5,150.25 L1474.5,150.26 L1476.5,150.27 L1478.5,150.28 L1480.5,150.29 L1482.5,150.29 L1483.0,150.29"/>
<path class="cv" d="M868.5,222.60 L870.5,222.60 L872.5,222.60 L874.5,222.60 L876.5,222.60 L878.5,222.60 L880.5,222.60 L882.5,222.60 L884.5,222.60 L886.5,222.60 L888.5,222.60 L890.5,222.59 L892.5,222.59 L894.5,222.59 L896.5,222.59 L898.5,222.59 L900.5,222.59 L902.5,222.59 L904.5,222.59 L906.5,222.58 L908.5,222.58 L910.5,222.58 L912.5,222.58 L914.5,222.58 L916.5,222.57 L918.5,222.57 L920.5,222.57 L922.5,222.57 L924.5,222.57 L926.5,222.56 L928.5,222.56 L930.5,222.56 L932.5,222.56 L934.5,222.55 L936.5,222.55 L938.5,222.55 L940.5,222.55 L942.5,222.54 L944.5,222.54 L946.5,222.54 L948.5,222.53 L950.5,222.53 L952.5,222.53 L954.5,222.53 L956.5,222.52 L958.5,222.52 L960.5,222.52 L962.5,222.51 L964.5,222.51 L966.5,222.51 L968.5,222.50 L970.5,222.50 L972.5,222.50 L974.5,222.49 L976.5,222.49 L978.5,222.49 L980.5,222.48 L982.5,222.48 L984.5,222.48 L986.5,222.47 L988.5,222.47 L990.5,222.46 L992.5,222.46 L994.5,222.46 L996.5,222.45 L998.5,222.45 L1000.5,222.45 L1002.5,222.44 L1004.5,222.44 L1006.5,222.43 L1008.5,222.43 L1010.5,222.43 L1012.5,222.42 L1014.5,222.42 L1016.5,222.42 L1018.5,222.41 L1020.5,222.41 L1022.5,222.40 L1024.5,222.40 L1026.5,222.40 L1028.5,222.39 L1030.5,222.39 L1032.5,222.39 L1034.5,222.38 L1036.5,222.38 L1038.5,222.37 L1040.5,222.37 L1042.5,222.36 L1044.5,222.36 L1046.5,222.35 L1048.5,222.35 L1050.5,222.34 L1052.5,222.33 L1054.5,222.33 L1056.5,222.32 L1058.5,222.31 L1060.5,222.29 L1062.5,222.27 L1064.5,222.25 L1066.5,222.21 L1068.5,222.17 L1070.5,222.13 L1072.5,222.07 L1074.5,222.01 L1076.5,221.95 L1078.5,221.88 L1080.5,221.80 L1082.5,221.72 L1084.5,221.64 L1086.5,221.55 L1088.5,221.45 L1090.5,221.34 L1092.5,221.22 L1094.5,221.07 L1096.5,220.91 L1098.5,220.73 L1100.5,220.52 L1102.5,220.29 L1104.5,220.05 L1106.5,219.79 L1108.5,219.50 L1110.5,219.17 L1112.5,218.81 L1114.5,218.39 L1116.5,217.93 L1118.5,217.41 L1120.5,216.86 L1122.5,216.27 L1124.5,215.65 L1126.5,214.98 L1128.5,214.27 L1130.5,213.50 L1132.5,212.67 L1134.5,211.78 L1136.5,210.83 L1138.5,209.83 L1140.5,208.79 L1142.5,207.70 L1144.5,206.55 L1146.5,205.34 L1148.5,204.06 L1150.5,202.75 L1152.5,201.43 L1154.5,200.14 L1156.5,198.89 L1158.5,197.68 L1160.5,196.50 L1162.5,195.37 L1164.5,194.31 L1166.5,193.34 L1168.5,192.47 L1170.5,191.69 L1172.5,190.97 L1174.5,190.35 L1176.5,189.84 L1178.5,189.50 L1180.5,189.35 L1182.5,189.40 L1184.5,189.64 L1186.5,190.03 L1188.5,190.54 L1190.5,191.16 L1192.5,191.92 L1194.5,192.86 L1196.5,194.00 L1198.5,195.32 L1200.5,196.76 L1202.5,198.24 L1204.5,199.72 L1206.5,201.19 L1208.5,202.66 L1210.5,204.12 L1212.5,205.55 L1214.5,206.91 L1216.5,208.21 L1218.5,209.45 L1220.5,210.62 L1222.5,211.72 L1224.5,212.73 L1226.5,213.64 L1228.5,214.44 L1230.5,215.15 L1232.5,215.79 L1234.5,216.36 L1236.5,216.88 L1238.5,217.33 L1240.5,217.71 L1242.5,218.04 L1244.5,218.32 L1246.5,218.56 L1248.5,218.79 L1250.5,218.99 L1252.5,219.18 L1254.5,219.34 L1256.5,219.49 L1258.5,219.62 L1260.5,219.73 L1262.5,219.82 L1264.5,219.91 L1266.5,219.99 L1268.5,220.06 L1270.5,220.13 L1272.5,220.19 L1274.5,220.25 L1276.5,220.31 L1278.5,220.36 L1280.5,220.41 L1282.5,220.46 L1284.5,220.50 L1286.5,220.54 L1288.5,220.59 L1290.5,220.62 L1292.5,220.66 L1294.5,220.70 L1296.5,220.74 L1298.5,220.77 L1300.5,220.81 L1302.5,220.84 L1304.5,220.88 L1306.5,220.91 L1308.5,220.95 L1310.5,220.98 L1312.5,221.01 L1314.5,221.04 L1316.5,221.07 L1318.5,221.10 L1320.5,221.13 L1322.5,221.16 L1324.5,221.19 L1326.5,221.21 L1328.5,221.24 L1330.5,221.26 L1332.5,221.29 L1334.5,221.31 L1336.5,221.33 L1338.5,221.35 L1340.5,221.36 L1342.5,221.38 L1344.5,221.40 L1346.5,221.41 L1348.5,221.43 L1350.5,221.44 L1352.5,221.45 L1354.5,221.47 L1356.5,221.48 L1358.5,221.50 L1360.5,221.51 L1362.5,221.52 L1364.5,221.54 L1366.5,221.55 L1368.5,221.56 L1370.5,221.58 L1372.5,221.59 L1374.5,221.60 L1376.5,221.62 L1378.5,221.63 L1380.5,221.64 L1382.5,221.65 L1384.5,221.66 L1386.5,221.68 L1388.5,221.69 L1390.5,221.70 L1392.5,221.71 L1394.5,221.72 L1396.5,221.73 L1398.5,221.75 L1400.5,221.76 L1402.5,221.77 L1404.5,221.78 L1406.5,221.79 L1408.5,221.80 L1410.5,221.81 L1412.5,221.82 L1414.5,221.83 L1416.5,221.84 L1418.5,221.84 L1420.5,221.85 L1422.5,221.86 L1424.5,221.87 L1426.5,221.88 L1428.5,221.89 L1430.5,221.89 L1432.5,221.90 L1434.5,221.91 L1436.5,221.92 L1438.5,221.92 L1440.5,221.93 L1442.5,221.94 L1444.5,221.94 L1446.5,221.95 L1448.5,221.95 L1450.5,221.96 L1452.5,221.96 L1454.5,221.97 L1456.5,221.97 L1458.5,221.98 L1460.5,221.98 L1462.5,221.98 L1464.5,221.99 L1466.5,221.99 L1468.5,221.99 L1470.5,221.99 L1472.5,222.00 L1474.5,222.00 L1476.5,222.00 L1478.5,222.00 L1480.5,222.00 L1482.5,222.00 L1483.0,222.00"/>
<path class="cv" d="M868.5,296.30 L870.5,296.30 L872.5,296.30 L874.5,296.30 L876.5,296.30 L878.5,296.30 L880.5,296.30 L882.5,296.30 L884.5,296.30 L886.5,296.30 L888.5,296.30 L890.5,296.29 L892.5,296.29 L894.5,296.29 L896.5,296.29 L898.5,296.29 L900.5,296.29 L902.5,296.29 L904.5,296.29 L906.5,296.28 L908.5,296.28 L910.5,296.28 L912.5,296.28 L914.5,296.28 L916.5,296.27 L918.5,296.27 L920.5,296.27 L922.5,296.27 L924.5,296.26 L926.5,296.26 L928.5,296.26 L930.5,296.26 L932.5,296.25 L934.5,296.25 L936.5,296.25 L938.5,296.24 L940.5,296.24 L942.5,296.24 L944.5,296.23 L946.5,296.23 L948.5,296.23 L950.5,296.22 L952.5,296.22 L954.5,296.21 L956.5,296.21 L958.5,296.20 L960.5,296.20 L962.5,296.20 L964.5,296.19 L966.5,296.19 L968.5,296.18 L970.5,296.18 L972.5,296.17 L974.5,296.17 L976.5,296.16 L978.5,296.16 L980.5,296.15 L982.5,296.14 L984.5,296.14 L986.5,296.13 L988.5,296.13 L990.5,296.12 L992.5,296.11 L994.5,296.11 L996.5,296.10 L998.5,296.10 L1000.5,296.09 L1002.5,296.08 L1004.5,296.08 L1006.5,296.07 L1008.5,296.06 L1010.5,296.05 L1012.5,296.05 L1014.5,296.04 L1016.5,296.03 L1018.5,296.02 L1020.5,296.02 L1022.5,296.01 L1024.5,296.00 L1026.5,295.99 L1028.5,295.98 L1030.5,295.97 L1032.5,295.95 L1034.5,295.94 L1036.5,295.92 L1038.5,295.90 L1040.5,295.87 L1042.5,295.85 L1044.5,295.82 L1046.5,295.79 L1048.5,295.75 L1050.5,295.72 L1052.5,295.68 L1054.5,295.63 L1056.5,295.58 L1058.5,295.52 L1060.5,295.45 L1062.5,295.34 L1064.5,295.20 L1066.5,295.02 L1068.5,294.80 L1070.5,294.55 L1072.5,294.27 L1074.5,293.97 L1076.5,293.64 L1078.5,293.30 L1080.5,292.92 L1082.5,292.50 L1084.5,292.04 L1086.5,291.51 L1088.5,290.94 L1090.5,290.32 L1092.5,289.65 L1094.5,288.93 L1096.5,288.15 L1098.5,287.29 L1100.5,286.35 L1102.5,285.34 L1104.5,284.29 L1106.5,283.23 L1108.5,282.16 L1110.5,281.09 L1112.5,280.00 L1114.5,278.91 L1116.5,277.83 L1118.5,276.82 L1120.5,275.90 L1122.5,275.10 L1124.5,274.41 L1126.5,273.79 L1128.5,273.25 L1130.5,272.77 L1132.5,272.39 L1134.5,272.14 L1136.5,272.05 L1138.5,272.18 L1140.5,272.52 L1142.5,273.07 L1144.5,273.79 L1146.5,274.68 L1148.5,275.77 L1150.5,277.06 L1152.5,278.53 L1154.5,280.10 L1156.5,281.68 L1158.5,283.19 L1160.5,284.63 L1162.5,285.98 L1164.5,287.26 L1166.5,288.43 L1168.5,289.47 L1170.5,290.35 L1172.5,291.09 L1174.5,291.73 L1176.5,292.27 L1178.5,292.73 L1180.5,293.11 L1182.5,293.43 L1184.5,293.69 L1186.5,293.91 L1188.5,294.12 L1190.5,294.30 L1192.5,294.46 L1194.5,294.60 L1196.5,294.71 L1198.5,294.80 L1200.5,294.85 L1202.5,294.88 L1204.5,294.89 L1206.5,294.90 L1208.5,294.90 L1210.5,294.90 L1212.5,294.90 L1214.5,294.90 L1216.5,294.90 L1218.5,294.89 L1220.5,294.89 L1222.5,294.89 L1224.5,294.89 L1226.5,294.89 L1228.5,294.89 L1230.5,294.88 L1232.5,294.88 L1234.5,294.88 L1236.5,294.88 L1238.5,294.88 L1240.5,294.87 L1242.5,294.87 L1244.5,294.87 L1246.5,294.87 L1248.5,294.86 L1250.5,294.86 L1252.5,294.86 L1254.5,294.85 L1256.5,294.85 L1258.5,294.85 L1260.5,294.85 L1262.5,294.84 L1264.5,294.84 L1266.5,294.84 L1268.5,294.84 L1270.5,294.83 L1272.5,294.83 L1274.5,294.83 L1276.5,294.82 L1278.5,294.82 L1280.5,294.82 L1282.5,294.82 L1284.5,294.81 L1286.5,294.81 L1288.5,294.81 L1290.5,294.81 L1292.5,294.81 L1294.5,294.80 L1296.5,294.80 L1298.5,294.80 L1300.5,294.80 L1302.5,294.80 L1304.5,294.80 L1306.5,294.80 L1308.5,294.79 L1310.5,294.79 L1312.5,294.79 L1314.5,294.79 L1316.5,294.79 L1318.5,294.79 L1320.5,294.79 L1322.5,294.78 L1324.5,294.78 L1326.5,294.78 L1328.5,294.78 L1330.5,294.78 L1332.5,294.78 L1334.5,294.78 L1336.5,294.77 L1338.5,294.77 L1340.5,294.77 L1342.5,294.77 L1344.5,294.77 L1346.5,294.77 L1348.5,294.77 L1350.5,294.76 L1352.5,294.76 L1354.5,294.76 L1356.5,294.76 L1358.5,294.76 L1360.5,294.76 L1362.5,294.76 L1364.5,294.76 L1366.5,294.75 L1368.5,294.75 L1370.5,294.75 L1372.5,294.75 L1374.5,294.75 L1376.5,294.75 L1378.5,294.75 L1380.5,294.75 L1382.5,294.74 L1384.5,294.74 L1386.5,294.74 L1388.5,294.74 L1390.5,294.74 L1392.5,294.74 L1394.5,294.74 L1396.5,294.74 L1398.5,294.73 L1400.5,294.73 L1402.5,294.73 L1404.5,294.73 L1406.5,294.73 L1408.5,294.73 L1410.5,294.73 L1412.5,294.73 L1414.5,294.73 L1416.5,294.73 L1418.5,294.72 L1420.5,294.72 L1422.5,294.72 L1424.5,294.72 L1426.5,294.72 L1428.5,294.72 L1430.5,294.72 L1432.5,294.72 L1434.5,294.72 L1436.5,294.72 L1438.5,294.71 L1440.5,294.71 L1442.5,294.71 L1444.5,294.71 L1446.5,294.71 L1448.5,294.71 L1450.5,294.71 L1452.5,294.71 L1454.5,294.71 L1456.5,294.71 L1458.5,294.71 L1460.5,294.71 L1462.5,294.71 L1464.5,294.71 L1466.5,294.70 L1468.5,294.70 L1470.5,294.70 L1472.5,294.70 L1474.5,294.70 L1476.5,294.70 L1478.5,294.70 L1480.5,294.70 L1482.5,294.70 L1483.0,294.70"/>
<path class="cv" d="M868.5,368.00 L870.5,368.00 L872.5,368.00 L874.5,367.99 L876.5,367.99 L878.5,367.99 L880.5,367.98 L882.5,367.98 L884.5,367.97 L886.5,367.96 L888.5,367.96 L890.5,367.95 L892.5,367.94 L894.5,367.93 L896.5,367.93 L898.5,367.92 L900.5,367.91 L902.5,367.90 L904.5,367.89 L906.5,367.88 L908.5,367.87 L910.5,367.86 L912.5,367.84 L914.5,367.83 L916.5,367.82 L918.5,367.81 L920.5,367.79 L922.5,367.78 L924.5,367.77 L926.5,367.75 L928.5,367.74 L930.5,367.73 L932.5,367.71 L934.5,367.70 L936.5,367.68 L938.5,367.67 L940.5,367.65 L942.5,367.64 L944.5,367.62 L946.5,367.61 L948.5,367.59 L950.5,367.58 L952.5,367.56 L954.5,367.54 L956.5,367.53 L958.5,367.51 L960.5,367.50 L962.5,367.48 L964.5,367.46 L966.5,367.45 L968.5,367.43 L970.5,367.41 L972.5,367.39 L974.5,367.37 L976.5,367.35 L978.5,367.33 L980.5,367.31 L982.5,367.29 L984.5,367.27 L986.5,367.24 L988.5,367.22 L990.5,367.19 L992.5,367.16 L994.5,367.13 L996.5,367.10 L998.5,367.06 L1000.5,367.03 L1002.5,366.99 L1004.5,366.95 L1006.5,366.91 L1008.5,366.86 L1010.5,366.81 L1012.5,366.75 L1014.5,366.68 L1016.5,366.61 L1018.5,366.53 L1020.5,366.43 L1022.5,366.33 L1024.5,366.23 L1026.5,366.11 L1028.5,365.98 L1030.5,365.85 L1032.5,365.70 L1034.5,365.54 L1036.5,365.34 L1038.5,365.11 L1040.5,364.84 L1042.5,364.53 L1044.5,364.17 L1046.5,363.79 L1048.5,363.37 L1050.5,362.93 L1052.5,362.47 L1054.5,361.97 L1056.5,361.43 L1058.5,360.84 L1060.5,360.20 L1062.5,359.53 L1064.5,358.82 L1066.5,358.11 L1068.5,357.38 L1070.5,356.65 L1072.5,355.90 L1074.5,355.15 L1076.5,354.43 L1078.5,353.77 L1080.5,353.21 L1082.5,352.73 L1084.5,352.35 L1086.5,352.08 L1088.5,351.95 L1090.5,352.00 L1092.5,352.25 L1094.5,352.70 L1096.5,353.34 L1098.5,354.19 L1100.5,355.26 L1102.5,356.53 L1104.5,357.88 L1106.5,359.18 L1108.5,360.34 L1110.5,361.36 L1112.5,362.24 L1114.5,363.00 L1116.5,363.64 L1118.5,364.18 L1120.5,364.63 L1122.5,365.02 L1124.5,365.36 L1126.5,365.64 L1128.5,365.86 L1130.5,366.04 L1132.5,366.18 L1134.5,366.31 L1136.5,366.42 L1138.5,366.51 L1140.5,366.60 L1142.5,366.67 L1144.5,366.72 L1146.5,366.76 L1148.5,366.79 L1150.5,366.81 L1152.5,366.83 L1154.5,366.84 L1156.5,366.86 L1158.5,366.87 L1160.5,366.88 L1162.5,366.89 L1164.5,366.90 L1166.5,366.90 L1168.5,366.91 L1170.5,366.92 L1172.5,366.93 L1174.5,366.93 L1176.5,366.94 L1178.5,366.94 L1180.5,366.95 L1182.5,366.95 L1184.5,366.96 L1186.5,366.96 L1188.5,366.97 L1190.5,366.97 L1192.5,366.98 L1194.5,366.98 L1196.5,366.99 L1198.5,367.00 L1200.5,367.00 L1202.5,367.01 L1204.5,367.02 L1206.5,367.02 L1208.5,367.03 L1210.5,367.04 L1212.5,367.04 L1214.5,367.05 L1216.5,367.06 L1218.5,367.06 L1220.5,367.07 L1222.5,367.08 L1224.5,367.09 L1226.5,367.09 L1228.5,367.10 L1230.5,367.11 L1232.5,367.11 L1234.5,367.12 L1236.5,367.13 L1238.5,367.13 L1240.5,367.14 L1242.5,367.15 L1244.5,367.15 L1246.5,367.16 L1248.5,367.17 L1250.5,367.17 L1252.5,367.18 L1254.5,367.19 L1256.5,367.19 L1258.5,367.20 L1260.5,367.20 L1262.5,367.21 L1264.5,367.22 L1266.5,367.22 L1268.5,367.23 L1270.5,367.23 L1272.5,367.24 L1274.5,367.24 L1276.5,367.25 L1278.5,367.25 L1280.5,367.26 L1282.5,367.26 L1284.5,367.27 L1286.5,367.27 L1288.5,367.28 L1290.5,367.28 L1292.5,367.29 L1294.5,367.29 L1296.5,367.29 L1298.5,367.30 L1300.5,367.30 L1302.5,367.30 L1304.5,367.31 L1306.5,367.31 L1308.5,367.31 L1310.5,367.32 L1312.5,367.32 L1314.5,367.32 L1316.5,367.33 L1318.5,367.33 L1320.5,367.33 L1322.5,367.34 L1324.5,367.34 L1326.5,367.34 L1328.5,367.35 L1330.5,367.35 L1332.5,367.35 L1334.5,367.36 L1336.5,367.36 L1338.5,367.36 L1340.5,367.37 L1342.5,367.37 L1344.5,367.37 L1346.5,367.38 L1348.5,367.38 L1350.5,367.38 L1352.5,367.38 L1354.5,367.39 L1356.5,367.39 L1358.5,367.39 L1360.5,367.40 L1362.5,367.40 L1364.5,367.40 L1366.5,367.41 L1368.5,367.41 L1370.5,367.41 L1372.5,367.41 L1374.5,367.42 L1376.5,367.42 L1378.5,367.42 L1380.5,367.42 L1382.5,367.43 L1384.5,367.43 L1386.5,367.43 L1388.5,367.43 L1390.5,367.44 L1392.5,367.44 L1394.5,367.44 L1396.5,367.44 L1398.5,367.45 L1400.5,367.45 L1402.5,367.45 L1404.5,367.45 L1406.5,367.46 L1408.5,367.46 L1410.5,367.46 L1412.5,367.46 L1414.5,367.46 L1416.5,367.47 L1418.5,367.47 L1420.5,367.47 L1422.5,367.47 L1424.5,367.47 L1426.5,367.47 L1428.5,367.48 L1430.5,367.48 L1432.5,367.48 L1434.5,367.48 L1436.5,367.48 L1438.5,367.48 L1440.5,367.49 L1442.5,367.49 L1444.5,367.49 L1446.5,367.49 L1448.5,367.49 L1450.5,367.49 L1452.5,367.49 L1454.5,367.49 L1456.5,367.49 L1458.5,367.49 L1460.5,367.50 L1462.5,367.50 L1464.5,367.50 L1466.5,367.50 L1468.5,367.50 L1470.5,367.50 L1472.5,367.50 L1474.5,367.50 L1476.5,367.50 L1478.5,367.50 L1480.5,367.50 L1482.5,367.50 L1483.0,367.50"/>
<path class="cv" d="M868.5,433.30 L870.5,433.30 L872.5,433.30 L874.5,433.30 L876.5,433.30 L878.5,433.29 L880.5,433.29 L882.5,433.29 L884.5,433.28 L886.5,433.28 L888.5,433.28 L890.5,433.27 L892.5,433.27 L894.5,433.26 L896.5,433.25 L898.5,433.25 L900.5,433.24 L902.5,433.23 L904.5,433.23 L906.5,433.22 L908.5,433.21 L910.5,433.20 L912.5,433.19 L914.5,433.18 L916.5,433.17 L918.5,433.16 L920.5,433.15 L922.5,433.14 L924.5,433.13 L926.5,433.12 L928.5,433.11 L930.5,433.10 L932.5,433.09 L934.5,433.07 L936.5,433.06 L938.5,433.05 L940.5,433.04 L942.5,433.02 L944.5,433.01 L946.5,433.00 L948.5,432.98 L950.5,432.97 L952.5,432.95 L954.5,432.94 L956.5,432.93 L958.5,432.91 L960.5,432.90 L962.5,432.88 L964.5,432.87 L966.5,432.85 L968.5,432.83 L970.5,432.81 L972.5,432.79 L974.5,432.77 L976.5,432.75 L978.5,432.72 L980.5,432.70 L982.5,432.67 L984.5,432.63 L986.5,432.60 L988.5,432.56 L990.5,432.52 L992.5,432.47 L994.5,432.42 L996.5,432.37 L998.5,432.30 L1000.5,432.20 L1002.5,432.08 L1004.5,431.91 L1006.5,431.71 L1008.5,431.47 L1010.5,431.21 L1012.5,430.91 L1014.5,430.59 L1016.5,430.24 L1018.5,429.84 L1020.5,429.37 L1022.5,428.86 L1024.5,428.31 L1026.5,427.74 L1028.5,427.16 L1030.5,426.58 L1032.5,426.00 L1034.5,425.44 L1036.5,424.93 L1038.5,424.49 L1040.5,424.15 L1042.5,423.92 L1044.5,423.85 L1046.5,423.95 L1048.5,424.24 L1050.5,424.72 L1052.5,425.37 L1054.5,426.18 L1056.5,427.10 L1058.5,428.06 L1060.5,428.96 L1062.5,429.76 L1064.5,430.46 L1066.5,431.05 L1068.5,431.52 L1070.5,431.86 L1072.5,432.10 L1074.5,432.28 L1076.5,432.43 L1078.5,432.55 L1080.5,432.64 L1082.5,432.71 L1084.5,432.76 L1086.5,432.80 L1088.5,432.82 L1090.5,432.84 L1092.5,432.85 L1094.5,432.87 L1096.5,432.88 L1098.5,432.89 L1100.5,432.91 L1102.5,432.92 L1104.5,432.93 L1106.5,432.94 L1108.5,432.95 L1110.5,432.96 L1112.5,432.97 L1114.5,432.98 L1116.5,432.98 L1118.5,432.99 L1120.5,433.00 L1122.5,433.01 L1124.5,433.01 L1126.5,433.02 L1128.5,433.02 L1130.5,433.03 L1132.5,433.03 L1134.5,433.04 L1136.5,433.04 L1138.5,433.05 L1140.5,433.05 L1142.5,433.06 L1144.5,433.06 L1146.5,433.06 L1148.5,433.07 L1150.5,433.07 L1152.5,433.08 L1154.5,433.08 L1156.5,433.08 L1158.5,433.09 L1160.5,433.09 L1162.5,433.09 L1164.5,433.10 L1166.5,433.10 L1168.5,433.11 L1170.5,433.11 L1172.5,433.11 L1174.5,433.12 L1176.5,433.12 L1178.5,433.13 L1180.5,433.13 L1182.5,433.14 L1184.5,433.14 L1186.5,433.15 L1188.5,433.16 L1190.5,433.16 L1192.5,433.17 L1194.5,433.18 L1196.5,433.19 L1198.5,433.19 L1200.5,433.20 L1202.5,433.21 L1204.5,433.22 L1206.5,433.23 L1208.5,433.24 L1210.5,433.25 L1212.5,433.27 L1214.5,433.28 L1216.5,433.29 L1218.5,433.30 L1220.5,433.32 L1222.5,433.33 L1224.5,433.34 L1226.5,433.36 L1228.5,433.37 L1230.5,433.39 L1232.5,433.40 L1234.5,433.42 L1236.5,433.43 L1238.5,433.45 L1240.5,433.46 L1242.5,433.47 L1244.5,433.49 L1246.5,433.50 L1248.5,433.52 L1250.5,433.53 L1252.5,433.55 L1254.5,433.56 L1256.5,433.58 L1258.5,433.59 L1260.5,433.61 L1262.5,433.62 L1264.5,433.63 L1266.5,433.65 L1268.5,433.66 L1270.5,433.67 L1272.5,433.68 L1274.5,433.70 L1276.5,433.71 L1278.5,433.72 L1280.5,433.73 L1282.5,433.74 L1284.5,433.75 L1286.5,433.76 L1288.5,433.76 L1290.5,433.77 L1292.5,433.78 L1294.5,433.79 L1296.5,433.79 L1298.5,433.80 L1300.5,433.80 L1302.5,433.80 L1304.5,433.81 L1306.5,433.81 L1308.5,433.82 L1310.5,433.82 L1312.5,433.82 L1314.5,433.83 L1316.5,433.83 L1318.5,433.84 L1320.5,433.84 L1322.5,433.84 L1324.5,433.85 L1326.5,433.85 L1328.5,433.85 L1330.5,433.86 L1332.5,433.86 L1334.5,433.86 L1336.5,433.87 L1338.5,433.87 L1340.5,433.87 L1342.5,433.88 L1344.5,433.88 L1346.5,433.88 L1348.5,433.89 L1350.5,433.89 L1352.5,433.89 L1354.5,433.90 L1356.5,433.90 L1358.5,433.90 L1360.5,433.90 L1362.5,433.91 L1364.5,433.91 L1366.5,433.91 L1368.5,433.92 L1370.5,433.92 L1372.5,433.92 L1374.5,433.92 L1376.5,433.93 L1378.5,433.93 L1380.5,433.93 L1382.5,433.93 L1384.5,433.94 L1386.5,433.94 L1388.5,433.94 L1390.5,433.94 L1392.5,433.95 L1394.5,433.95 L1396.5,433.95 L1398.5,433.95 L1400.5,433.96 L1402.5,433.96 L1404.5,433.96 L1406.5,433.96 L1408.5,433.96 L1410.5,433.97 L1412.5,433.97 L1414.5,433.97 L1416.5,433.97 L1418.5,433.97 L1420.5,433.97 L1422.5,433.98 L1424.5,433.98 L1426.5,433.98 L1428.5,433.98 L1430.5,433.98 L1432.5,433.98 L1434.5,433.98 L1436.5,433.99 L1438.5,433.99 L1440.5,433.99 L1442.5,433.99 L1444.5,433.99 L1446.5,433.99 L1448.5,433.99 L1450.5,433.99 L1452.5,433.99 L1454.5,433.99 L1456.5,434.00 L1458.5,434.00 L1460.5,434.00 L1462.5,434.00 L1464.5,434.00 L1466.5,434.00 L1468.5,434.00 L1470.5,434.00 L1472.5,434.00 L1474.5,434.00 L1476.5,434.00 L1478.5,434.00 L1480.5,434.00 L1482.5,434.00 L1483.0,434.00"/>
<rect class="fr" x="868.5" y="14.7" width="614.5" height="489.0"/>
<line class="tk" x1="868.5" y1="503.7" x2="868.5" y2="512.7"/>
<text class="tick" x="868.5" y="542.8">70</text>
<line class="tk" x1="956.3" y1="503.7" x2="956.3" y2="512.7"/>
<text class="tick" x="956.3" y="542.8">80</text>
<line class="tk" x1="1044.1" y1="503.7" x2="1044.1" y2="512.7"/>
<text class="tick" x="1044.1" y="542.8">90</text>
<line class="tk" x1="1131.9" y1="503.7" x2="1131.9" y2="512.7"/>
<text class="tick" x="1131.9" y="542.8">100</text>
<line class="tk" x1="1219.6" y1="503.7" x2="1219.6" y2="512.7"/>
<text class="tick" x="1219.6" y="542.8">110</text>
<line class="tk" x1="1307.4" y1="503.7" x2="1307.4" y2="512.7"/>
<text class="tick" x="1307.4" y="542.8">120</text>
<line class="tk" x1="1395.2" y1="503.7" x2="1395.2" y2="512.7"/>
<text class="tick" x="1395.2" y="542.8">130</text>
<line class="tk" x1="1483.0" y1="503.7" x2="1483.0" y2="512.7"/>
<text class="tick" x="1483.0" y="542.8">140</text>
<text class="lab" x="873.9" y="145.0">10.00<tspan class="dg">℃</tspan>/min</text>
<text class="lab" x="1177.7" y="106.1">108<tspan class="dg">℃</tspan></text>
<text class="lab" x="875.2" y="216.6">7.50<tspan class="dg">℃</tspan>/min</text>
<text class="lab" x="1149.7" y="182.6">105<tspan class="dg">℃</tspan></text>
<text class="lab" x="877.1" y="290.7">5.00<tspan class="dg">℃</tspan>/min</text>
<text class="lab" x="1106.8" y="263.4">100<tspan class="dg">℃</tspan></text>
<text class="lab" x="876.8" y="363.2">2.50<tspan class="dg">℃</tspan>/min</text>
<text class="lab" x="1066.4" y="341.8">95<tspan class="dg">℃</tspan></text>
<text class="lab" x="875.6" y="427.5">1.25<tspan class="dg">℃</tspan>/min</text>
<text class="lab" x="1022.6" y="417.0">90<tspan class="dg">℃</tspan></text>
<text class="ax" x="1042.9" y="584.8">Temperature(℃ )</text>
<text class="yl" transform="translate(851.4,488.7) rotate(-90)" textLength="351.6" lengthAdjust="spacing">Heat Flow(mW/mg)EXo</text>
<line class="ar" x1="842.5" y1="128.9" x2="842.5" y2="72.6"/>
<path d="M842.5,58.6 L848.9,79.5 L842.5,78.7 L836.1,79.5 Z" fill="#000" stroke="#000" stroke-width="0.6" stroke-linejoin="round"/>
<text class="let" transform="translate(773.9,62.3) scale(1.0,1)">b</text>
</g>
<g id="panel-c">
<path class="cv" d="M114.5,736.11 L116.5,736.12 L118.5,736.13 L120.5,736.15 L122.5,736.16 L124.5,736.18 L126.5,736.19 L128.5,736.21 L130.5,736.22 L132.5,736.23 L134.5,736.24 L136.5,736.26 L138.5,736.27 L140.5,736.28 L142.5,736.29 L144.5,736.30 L146.5,736.31 L148.5,736.32 L150.5,736.33 L152.5,736.34 L154.5,736.35 L156.5,736.36 L158.5,736.37 L160.5,736.38 L162.5,736.38 L164.5,736.39 L166.5,736.40 L168.5,736.41 L170.5,736.41 L172.5,736.42 L174.5,736.42 L176.5,736.43 L178.5,736.44 L180.5,736.44 L182.5,736.45 L184.5,736.45 L186.5,736.45 L188.5,736.46 L190.5,736.46 L192.5,736.47 L194.5,736.47 L196.5,736.47 L198.5,736.48 L200.5,736.48 L202.5,736.48 L204.5,736.48 L206.5,736.49 L208.5,736.49 L210.5,736.49 L212.5,736.49 L214.5,736.49 L216.5,736.49 L218.5,736.50 L220.5,736.50 L222.5,736.50 L224.5,736.50 L226.5,736.50 L228.5,736.50 L230.5,736.50 L232.5,736.50 L234.5,736.50 L236.5,736.50 L238.5,736.50 L240.5,736.50 L242.5,736.50 L244.5,736.49 L246.5,736.49 L248.5,736.49 L250.5,736.48 L252.5,736.48 L254.5,736.47 L256.5,736.47 L258.5,736.46 L260.5,736.45 L262.5,736.44 L264.5,736.44 L266.5,736.43 L268.5,736.42 L270.5,736.41 L272.5,736.40 L274.5,736.39 L276.5,736.38 L278.5,736.36 L280.5,736.35 L282.5,736.34 L284.5,736.33 L286.5,736.31 L288.5,736.30 L290.5,736.29 L292.5,736.27 L294.5,736.26 L296.5,736.25 L298.5,736.23 L300.5,736.22 L302.5,736.20 L304.5,736.19 L306.5,736.17 L308.5,736.15 L310.5,736.13 L312.5,736.11 L314.5,736.08 L316.5,736.06 L318.5,736.03 L320.5,736.00 L322.5,735.96 L324.5,735.92 L326.5,735.88 L328.5,735.83 L330.5,735.77 L332.5,735.69 L334.5,735.60 L336.5,735.48 L338.5,735.35 L340.5,735.19 L342.5,735.02 L344.5,734.84 L346.5,734.64 L348.5,734.42 L350.5,734.18 L352.5,733.91 L354.5,733.60 L356.5,733.25 L358.5,732.86 L360.5,732.44 L362.5,731.99 L364.5,731.53 L366.5,731.04 L368.5,730.54 L370.5,730.01 L372.5,729.46 L374.5,728.87 L376.5,728.25 L378.5,727.58 L380.5,726.87 L382.5,726.11 L384.5,725.29 L386.5,724.40 L388.5,723.42 L390.5,722.35 L392.5,721.21 L394.5,720.02 L396.5,718.80 L398.5,717.54 L400.5,716.25 L402.5,714.92 L404.5,713.58 L406.5,712.24 L408.5,710.91 L410.5,709.58 L412.5,708.27 L414.5,706.99 L416.5,705.75 L418.5,704.58 L420.5,703.50 L422.5,702.50 L424.5,701.60 L426.5,700.78 L428.5,700.08 L430.5,699.50 L432.5,699.03 L434.5,698.63 L436.5,698.31 L438.5,698.07 L440.5,697.92 L442.5,697.90 L444.5,698.05 L446.5,698.38 L448.5,698.86 L450.5,699.47 L452.5,700.19 L454.5,701.02 L456.5,701.98 L458.5,703.05 L460.5,704.22 L462.5,705.44 L464.5,706.69 L466.5,707.97 L468.5,709.28 L470.5,710.61 L472.5,711.95 L474.5,713.29 L476.5,714.61 L478.5,715.90 L480.5,717.18 L482.5,718.42 L484.5,719.64 L486.5,720.80 L488.5,721.91 L490.5,722.97 L492.5,723.99 L494.5,724.95 L496.5,725.84 L498.5,726.66 L500.5,727.39 L502.5,728.05 L504.5,728.66 L506.5,729.22 L508.5,729.73 L510.5,730.21 L512.5,730.64 L514.5,731.03 L516.5,731.39 L518.5,731.71 L520.5,732.02 L522.5,732.30 L524.5,732.57 L526.5,732.82 L528.5,733.05 L530.5,733.25 L532.5,733.44 L534.5,733.60 L536.5,733.75 L538.5,733.88 L540.5,734.00 L542.5,734.12 L544.5,734.23 L546.5,734.34 L548.5,734.44 L550.5,734.53 L552.5,734.62 L554.5,734.71 L556.5,734.78 L558.5,734.86 L560.5,734.93 L562.5,734.99 L564.5,735.05 L566.5,735.11 L568.5,735.16 L570.5,735.21 L572.5,735.25 L574.5,735.30 L576.5,735.34 L578.5,735.38 L580.5,735.42 L582.5,735.46 L584.5,735.50 L586.5,735.53 L588.5,735.57 L590.5,735.60 L592.5,735.63 L594.5,735.66 L596.5,735.70 L598.5,735.73 L600.5,735.75 L602.5,735.78 L604.5,735.81 L606.5,735.84 L608.5,735.86 L610.5,735.89 L612.5,735.91 L614.5,735.94 L616.5,735.96 L618.5,735.98 L620.5,736.00 L622.5,736.03 L624.5,736.05 L626.5,736.07 L628.5,736.09 L630.5,736.11 L632.5,736.13 L634.5,736.15 L636.5,736.17 L638.5,736.19 L640.5,736.20 L642.5,736.22 L644.5,736.24 L646.5,736.26 L648.5,736.28 L650.5,736.30 L652.5,736.32 L654.5,736.33 L656.5,736.35 L658.5,736.37 L660.5,736.39 L662.5,736.40 L664.5,736.42 L666.5,736.44 L668.5,736.45 L670.5,736.47 L672.5,736.49 L674.5,736.50 L676.5,736.52 L678.5,736.53 L680.5,736.55 L682.5,736.56 L684.5,736.58 L686.5,736.59 L688.5,736.61 L690.5,736.62 L692.5,736.63 L694.5,736.65 L696.5,736.66 L698.5,736.67 L700.5,736.68 L702.5,736.69 L704.5,736.70 L706.5,736.72 L708.5,736.73 L710.5,736.74 L712.5,736.74 L714.5,736.75 L716.5,736.76 L718.5,736.77 L720.5,736.78 L722.5,736.78 L724.5,736.79 L726.5,736.79 L727.5,736.80"/>
<path class="cv" d="M114.5,818.20 L116.5,818.20 L118.5,818.20 L120.5,818.20 L122.5,818.20 L124.5,818.20 L126.5,818.20 L128.5,818.20 L130.5,818.19 L132.5,818.19 L134.5,818.19 L136.5,818.19 L138.5,818.19 L140.5,818.19 L142.5,818.18 L144.5,818.18 L146.5,818.18 L148.5,818.18 L150.5,818.17 L152.5,818.17 L154.5,818.17 L156.5,818.16 L158.5,818.16 L160.5,818.16 L162.5,818.15 L164.5,818.15 L166.5,818.14 L168.5,818.14 L170.5,818.14 L172.5,818.13 L174.5,818.13 L176.5,818.12 L178.5,818.12 L180.5,818.11 L182.5,818.11 L184.5,818.10 L186.5,818.10 L188.5,818.09 L190.5,818.09 L192.5,818.08 L194.5,818.08 L196.5,818.07 L198.5,818.06 L200.5,818.06 L202.5,818.05 L204.5,818.05 L206.5,818.04 L208.5,818.03 L210.5,818.03 L212.5,818.02 L214.5,818.01 L216.5,818.01 L218.5,818.00 L220.5,817.99 L222.5,817.99 L224.5,817.98 L226.5,817.97 L228.5,817.96 L230.5,817.96 L232.5,817.95 L234.5,817.94 L236.5,817.93 L238.5,817.93 L240.5,817.92 L242.5,817.91 L244.5,817.90 L246.5,817.90 L248.5,817.89 L250.5,817.88 L252.5,817.87 L254.5,817.86 L256.5,817.86 L258.5,817.85 L260.5,817.84 L262.5,817.83 L264.5,817.82 L266.5,817.81 L268.5,817.81 L270.5,817.80 L272.5,817.79 L274.5,817.78 L276.5,817.77 L278.5,817.76 L280.5,817.75 L282.5,817.74 L284.5,817.72 L286.5,817.71 L288.5,817.70 L290.5,817.69 L292.5,817.67 L294.5,817.65 L296.5,817.64 L298.5,817.62 L300.5,817.60 L302.5,817.58 L304.5,817.56 L306.5,817.54 L308.5,817.52 L310.5,817.49 L312.5,817.46 L314.5,817.43 L316.5,817.39 L318.5,817.35 L320.5,817.30 L322.5,817.24 L324.5,817.18 L326.5,817.12 L328.5,817.05 L330.5,816.96 L332.5,816.87 L334.5,816.75 L336.5,816.62 L338.5,816.47 L340.5,816.30 L342.5,816.11 L344.5,815.91 L346.5,815.68 L348.5,815.43 L350.5,815.14 L352.5,814.81 L354.5,814.41 L356.5,813.96 L358.5,813.46 L360.5,812.91 L362.5,812.33 L364.5,811.70 L366.5,811.03 L368.5,810.30 L370.5,809.51 L372.5,808.65 L374.5,807.75 L376.5,806.80 L378.5,805.81 L380.5,804.77 L382.5,803.69 L384.5,802.56 L386.5,801.39 L388.5,800.19 L390.5,798.97 L392.5,797.72 L394.5,796.45 L396.5,795.17 L398.5,793.89 L400.5,792.65 L402.5,791.45 L404.5,790.30 L406.5,789.21 L408.5,788.19 L410.5,787.29 L412.5,786.53 L414.5,785.91 L416.5,785.43 L418.5,785.11 L420.5,784.97 L422.5,785.02 L424.5,785.27 L426.5,785.69 L428.5,786.26 L430.5,787.01 L432.5,787.93 L434.5,789.02 L436.5,790.24 L438.5,791.54 L440.5,792.91 L442.5,794.35 L444.5,795.83 L446.5,797.32 L448.5,798.78 L450.5,800.20 L452.5,801.58 L454.5,802.90 L456.5,804.14 L458.5,805.29 L460.5,806.35 L462.5,807.33 L464.5,808.22 L466.5,809.03 L468.5,809.74 L470.5,810.38 L472.5,810.96 L474.5,811.47 L476.5,811.93 L478.5,812.33 L480.5,812.68 L482.5,812.99 L484.5,813.26 L486.5,813.51 L488.5,813.74 L490.5,813.94 L492.5,814.13 L494.5,814.31 L496.5,814.46 L498.5,814.59 L500.5,814.71 L502.5,814.82 L504.5,814.92 L506.5,815.01 L508.5,815.10 L510.5,815.18 L512.5,815.25 L514.5,815.32 L516.5,815.38 L518.5,815.45 L520.5,815.51 L522.5,815.56 L524.5,815.62 L526.5,815.67 L528.5,815.72 L530.5,815.77 L532.5,815.82 L534.5,815.87 L536.5,815.91 L538.5,815.96 L540.5,816.00 L542.5,816.05 L544.5,816.09 L546.5,816.13 L548.5,816.17 L550.5,816.21 L552.5,816.24 L554.5,816.28 L556.5,816.31 L558.5,816.35 L560.5,816.38 L562.5,816.40 L564.5,816.43 L566.5,816.46 L568.5,816.48 L570.5,816.50 L572.5,816.53 L574.5,816.55 L576.5,816.57 L578.5,816.58 L580.5,816.60 L582.5,816.62 L584.5,816.64 L586.5,816.65 L588.5,816.67 L590.5,816.69 L592.5,816.70 L594.5,816.72 L596.5,816.73 L598.5,816.74 L600.5,816.76 L602.5,816.77 L604.5,816.78 L606.5,816.80 L608.5,816.81 L610.5,816.82 L612.5,816.83 L614.5,816.85 L616.5,816.86 L618.5,816.87 L620.5,816.88 L622.5,816.89 L624.5,816.91 L626.5,816.92 L628.5,816.93 L630.5,816.94 L632.5,816.95 L634.5,816.97 L636.5,816.98 L638.5,816.99 L640.5,817.00 L642.5,817.02 L644.5,817.03 L646.5,817.04 L648.5,817.05 L650.5,817.07 L652.5,817.08 L654.5,817.09 L656.5,817.10 L658.5,817.12 L660.5,817.13 L662.5,817.14 L664.5,817.15 L666.5,817.16 L668.5,817.18 L670.5,817.19 L672.5,817.20 L674.5,817.21 L676.5,817.22 L678.5,817.24 L680.5,817.25 L682.5,817.26 L684.5,817.27 L686.5,817.28 L688.5,817.29 L690.5,817.30 L692.5,817.32 L694.5,817.33 L696.5,817.34 L698.5,817.35 L700.5,817.36 L702.5,817.37 L704.5,817.38 L706.5,817.39 L708.5,817.40 L710.5,817.41 L712.5,817.42 L714.5,817.43 L716.5,817.44 L718.5,817.45 L720.5,817.46 L722.5,817.47 L724.5,817.48 L726.5,817.49 L727.5,817.49"/>
<path class="cv" d="M114.5,894.00 L116.5,894.00 L118.5,894.00 L120.5,894.00 L122.5,894.00 L124.5,894.00 L126.5,894.00 L128.5,894.00 L130.5,894.00 L132.5,894.00 L134.5,894.00 L136.5,894.00 L138.5,894.00 L140.5,894.00 L142.5,894.00 L144.5,894.00 L146.5,894.00 L148.5,894.00 L150.5,894.00 L152.5,894.00 L154.5,894.00 L156.5,894.00 L158.5,894.00 L160.5,894.00 L162.5,894.00 L164.5,894.00 L166.5,894.00 L168.5,894.00 L170.5,894.00 L172.5,894.00 L174.5,894.00 L176.5,894.00 L178.5,894.00 L180.5,894.00 L182.5,894.00 L184.5,894.00 L186.5,894.00 L188.5,894.00 L190.5,894.00 L192.5,894.00 L194.5,894.00 L196.5,894.00 L198.5,894.00 L200.5,894.00 L202.5,894.00 L204.5,894.00 L206.5,894.00 L208.5,894.00 L210.5,894.00 L212.5,894.00 L214.5,894.00 L216.5,894.00 L218.5,894.00 L220.5,894.00 L222.5,894.00 L224.5,894.00 L226.5,894.00 L228.5,894.00 L230.5,894.00 L232.5,894.00 L234.5,894.00 L236.5,894.00 L238.5,894.00 L240.5,894.00 L242.5,894.00 L244.5,894.00 L246.5,894.00 L248.5,894.00 L250.5,894.00 L252.5,894.00 L254.5,894.00 L256.5,893.99 L258.5,893.98 L260.5,893.97 L262.5,893.95 L264.5,893.93 L266.5,893.91 L268.5,893.88 L270.5,893.85 L272.5,893.81 L274.5,893.78 L276.5,893.73 L278.5,893.69 L280.5,893.64 L282.5,893.60 L284.5,893.54 L286.5,893.49 L288.5,893.43 L290.5,893.37 L292.5,893.31 L294.5,893.25 L296.5,893.17 L298.5,893.08 L300.5,892.98 L302.5,892.85 L304.5,892.71 L306.5,892.56 L308.5,892.39 L310.5,892.21 L312.5,892.03 L314.5,891.85 L316.5,891.66 L318.5,891.47 L320.5,891.27 L322.5,891.05 L324.5,890.80 L326.5,890.52 L328.5,890.18 L330.5,889.76 L332.5,889.23 L334.5,888.59 L336.5,887.84 L338.5,887.00 L340.5,886.09 L342.5,885.11 L344.5,884.05 L346.5,882.91 L348.5,881.72 L350.5,880.52 L352.5,879.33 L354.5,878.17 L356.5,877.04 L358.5,875.97 L360.5,875.00 L362.5,874.16 L364.5,873.47 L366.5,872.90 L368.5,872.45 L370.5,872.12 L372.5,871.96 L374.5,871.98 L376.5,872.20 L378.5,872.60 L380.5,873.16 L382.5,873.87 L384.5,874.76 L386.5,875.86 L388.5,877.15 L390.5,878.55 L392.5,879.98 L394.5,881.40 L396.5,882.80 L398.5,884.14 L400.5,885.41 L402.5,886.58 L404.5,887.63 L406.5,888.57 L408.5,889.40 L410.5,890.13 L412.5,890.75 L414.5,891.28 L416.5,891.72 L418.5,892.11 L420.5,892.43 L422.5,892.70 L424.5,892.92 L426.5,893.09 L428.5,893.23 L430.5,893.35 L432.5,893.46 L434.5,893.56 L436.5,893.65 L438.5,893.73 L440.5,893.80 L442.5,893.86 L444.5,893.91 L446.5,893.96 L448.5,893.99 L450.5,894.02 L452.5,894.05 L454.5,894.08 L456.5,894.10 L458.5,894.12 L460.5,894.15 L462.5,894.17 L464.5,894.19 L466.5,894.21 L468.5,894.23 L470.5,894.25 L472.5,894.27 L474.5,894.28 L476.5,894.30 L478.5,894.32 L480.5,894.33 L482.5,894.35 L484.5,894.36 L486.5,894.38 L488.5,894.39 L490.5,894.41 L492.5,894.42 L494.5,894.43 L496.5,894.44 L498.5,894.46 L500.5,894.47 L502.5,894.48 L504.5,894.49 L506.5,894.50 L508.5,894.51 L510.5,894.52 L512.5,894.53 L514.5,894.54 L516.5,894.55 L518.5,894.56 L520.5,894.57 L522.5,894.57 L524.5,894.58 L526.5,894.59 L528.5,894.60 L530.5,894.61 L532.5,894.62 L534.5,894.63 L536.5,894.63 L538.5,894.64 L540.5,894.65 L542.5,894.66 L544.5,894.67 L546.5,894.68 L548.5,894.69 L550.5,894.70 L552.5,894.71 L554.5,894.72 L556.5,894.73 L558.5,894.74 L560.5,894.75 L562.5,894.76 L564.5,894.77 L566.5,894.78 L568.5,894.79 L570.5,894.80 L572.5,894.82 L574.5,894.83 L576.5,894.84 L578.5,894.85 L580.5,894.86 L582.5,894.88 L584.5,894.89 L586.5,894.90 L588.5,894.91 L590.5,894.92 L592.5,894.94 L594.5,894.95 L596.5,894.96 L598.5,894.97 L600.5,894.99 L602.5,895.00 L604.5,895.01 L606.5,895.02 L608.5,895.03 L610.5,895.04 L612.5,895.06 L614.5,895.07 L616.5,895.08 L618.5,895.09 L620.5,895.10 L622.5,895.12 L624.5,895.13 L626.5,895.14 L628.5,895.15 L630.5,895.16 L632.5,895.17 L634.5,895.19 L636.5,895.20 L638.5,895.21 L640.5,895.22 L642.5,895.23 L644.5,895.24 L646.5,895.26 L648.5,895.27 L650.5,895.28 L652.5,895.29 L654.5,895.30 L656.5,895.31 L658.5,895.32 L660.5,895.34 L662.5,895.35 L664.5,895.36 L666.5,895.37 L668.5,895.38 L670.5,895.39 L672.5,895.40 L674.5,895.41 L676.5,895.42 L678.5,895.44 L680.5,895.45 L682.5,895.46 L684.5,895.47 L686.5,895.48 L688.5,895.49 L690.5,895.50 L692.5,895.51 L694.5,895.52 L696.5,895.53 L698.5,895.55 L700.5,895.56 L702.5,895.57 L704.5,895.58 L706.5,895.59 L708.5,895.60 L710.5,895.61 L712.5,895.62 L714.5,895.63 L716.5,895.64 L718.5,895.65 L720.5,895.66 L722.5,895.67 L724.5,895.68 L726.5,895.69 L727.5,895.69"/>
<path class="cv" d="M114.5,967.50 L116.5,967.50 L118.5,967.50 L120.5,967.50 L122.5,967.50 L124.5,967.50 L126.5,967.50 L128.5,967.50 L130.5,967.50 L132.5,967.50 L134.5,967.50 L136.5,967.50 L138.5,967.50 L140.5,967.50 L142.5,967.50 L144.5,967.50 L146.5,967.50 L148.5,967.50 L150.5,967.50 L152.5,967.50 L154.5,967.50 L156.5,967.50 L158.5,967.50 L160.5,967.50 L162.5,967.50 L164.5,967.50 L166.5,967.50 L168.5,967.50 L170.5,967.50 L172.5,967.50 L174.5,967.50 L176.5,967.50 L178.5,967.50 L180.5,967.50 L182.5,967.50 L184.5,967.50 L186.5,967.50 L188.5,967.50 L190.5,967.50 L192.5,967.50 L194.5,967.50 L196.5,967.50 L198.5,967.50 L200.5,967.50 L202.5,967.50 L204.5,967.50 L206.5,967.50 L208.5,967.50 L210.5,967.50 L212.5,967.50 L214.5,967.50 L216.5,967.50 L218.5,967.50 L220.5,967.50 L222.5,967.50 L224.5,967.50 L226.5,967.50 L228.5,967.50 L230.5,967.49 L232.5,967.48 L234.5,967.45 L236.5,967.41 L238.5,967.36 L240.5,967.30 L242.5,967.23 L244.5,967.14 L246.5,967.04 L248.5,966.94 L250.5,966.82 L252.5,966.70 L254.5,966.56 L256.5,966.42 L258.5,966.27 L260.5,966.11 L262.5,965.92 L264.5,965.71 L266.5,965.44 L268.5,965.11 L270.5,964.73 L272.5,964.30 L274.5,963.83 L276.5,963.33 L278.5,962.80 L280.5,962.26 L282.5,961.69 L284.5,961.08 L286.5,960.42 L288.5,959.70 L290.5,958.96 L292.5,958.22 L294.5,957.52 L296.5,956.88 L298.5,956.33 L300.5,955.85 L302.5,955.43 L304.5,955.04 L306.5,954.69 L308.5,954.38 L310.5,954.13 L312.5,953.94 L314.5,953.84 L316.5,953.85 L318.5,953.96 L320.5,954.19 L322.5,954.51 L324.5,954.92 L326.5,955.41 L328.5,955.98 L330.5,956.69 L332.5,957.56 L334.5,958.57 L336.5,959.65 L338.5,960.71 L340.5,961.68 L342.5,962.52 L344.5,963.25 L346.5,963.90 L348.5,964.49 L350.5,965.03 L352.5,965.50 L354.5,965.89 L356.5,966.18 L358.5,966.40 L360.5,966.55 L362.5,966.66 L364.5,966.75 L366.5,966.83 L368.5,966.90 L370.5,966.97 L372.5,967.02 L374.5,967.07 L376.5,967.11 L378.5,967.14 L380.5,967.17 L382.5,967.18 L384.5,967.19 L386.5,967.20 L388.5,967.20 L390.5,967.20 L392.5,967.20 L394.5,967.20 L396.5,967.20 L398.5,967.20 L400.5,967.20 L402.5,967.20 L404.5,967.20 L406.5,967.20 L408.5,967.20 L410.5,967.20 L412.5,967.20 L414.5,967.20 L416.5,967.20 L418.5,967.20 L420.5,967.20 L422.5,967.20 L424.5,967.20 L426.5,967.20 L428.5,967.20 L430.5,967.20 L432.5,967.20 L434.5,967.20 L436.5,967.20 L438.5,967.20 L440.5,967.20 L442.5,967.20 L444.5,967.20 L446.5,967.20 L448.5,967.20 L450.5,967.20 L452.5,967.20 L454.5,967.20 L456.5,967.20 L458.5,967.20 L460.5,967.20 L462.5,967.20 L464.5,967.20 L466.5,967.20 L468.5,967.20 L470.5,967.20 L472.5,967.20 L474.5,967.20 L476.5,967.20 L478.5,967.20 L480.5,967.20 L482.5,967.20 L484.5,967.20 L486.5,967.20 L488.5,967.20 L490.5,967.20 L492.5,967.20 L494.5,967.20 L496.5,967.20 L498.5,967.20 L500.5,967.20 L502.5,967.20 L504.5,967.20 L506.5,967.20 L508.5,967.20 L510.5,967.20 L512.5,967.20 L514.5,967.20 L516.5,967.20 L518.5,967.20 L520.5,967.20 L522.5,967.20 L524.5,967.20 L526.5,967.20 L528.5,967.20 L530.5,967.20 L532.5,967.20 L534.5,967.20 L536.5,967.20 L538.5,967.20 L540.5,967.20 L542.5,967.20 L544.5,967.20 L546.5,967.20 L548.5,967.20 L550.5,967.20 L552.5,967.20 L554.5,967.20 L556.5,967.20 L558.5,967.20 L560.5,967.20 L562.5,967.20 L564.5,967.20 L566.5,967.20 L568.5,967.20 L570.5,967.20 L572.5,967.20 L574.5,967.20 L576.5,967.20 L578.5,967.20 L580.5,967.20 L582.5,967.20 L584.5,967.20 L586.5,967.20 L588.5,967.20 L590.5,967.20 L592.5,967.20 L594.5,967.20 L596.5,967.20 L598.5,967.20 L600.5,967.20 L602.5,967.20 L604.5,967.20 L606.5,967.20 L608.5,967.20 L610.5,967.20 L612.5,967.20 L614.5,967.20 L616.5,967.20 L618.5,967.20 L620.5,967.20 L622.5,967.20 L624.5,967.20 L626.5,967.20 L628.5,967.20 L630.5,967.20 L632.5,967.20 L634.5,967.20 L636.5,967.20 L638.5,967.20 L640.5,967.20 L642.5,967.20 L644.5,967.20 L646.5,967.20 L648.5,967.20 L650.5,967.20 L652.5,967.20 L654.5,967.20 L656.5,967.20 L658.5,967.20 L660.5,967.20 L662.5,967.20 L664.5,967.20 L666.5,967.20 L668.5,967.20 L670.5,967.20 L672.5,967.20 L674.5,967.20 L676.5,967.20 L678.5,967.20 L680.5,967.20 L682.5,967.20 L684.5,967.20 L686.5,967.20 L688.5,967.20 L690.5,967.20 L692.5,967.20 L694.5,967.20 L696.5,967.20 L698.5,967.20 L700.5,967.20 L702.5,967.20 L704.5,967.20 L706.5,967.20 L708.5,967.20 L710.5,967.20 L712.5,967.20 L714.5,967.20 L716.5,967.20 L718.5,967.20 L720.5,967.20 L722.5,967.20 L724.5,967.20 L726.5,967.20 L727.5,967.20"/>
<path class="cv" d="M114.5,1042.30 L116.5,1042.30 L118.5,1042.30 L120.5,1042.30 L122.5,1042.30 L124.5,1042.30 L126.5,1042.30 L128.5,1042.30 L130.5,1042.30 L132.5,1042.30 L134.5,1042.30 L136.5,1042.30 L138.5,1042.30 L140.5,1042.30 L142.5,1042.30 L144.5,1042.30 L146.5,1042.30 L148.5,1042.30 L150.5,1042.30 L152.5,1042.30 L154.5,1042.30 L156.5,1042.30 L158.5,1042.30 L160.5,1042.30 L162.5,1042.30 L164.5,1042.30 L166.5,1042.30 L168.5,1042.30 L170.5,1042.30 L172.5,1042.30 L174.5,1042.30 L176.5,1042.30 L178.5,1042.30 L180.5,1042.30 L182.5,1042.30 L184.5,1042.30 L186.5,1042.30 L188.5,1042.30 L190.5,1042.30 L192.5,1042.30 L194.5,1042.30 L196.5,1042.30 L198.5,1042.30 L200.5,1042.30 L202.5,1042.30 L204.5,1042.30 L206.5,1042.30 L208.5,1042.30 L210.5,1042.30 L212.5,1042.30 L214.5,1042.30 L216.5,1042.30 L218.5,1042.29 L220.5,1042.28 L222.5,1042.26 L224.5,1042.21 L226.5,1042.14 L228.5,1042.04 L230.5,1041.92 L232.5,1041.79 L234.5,1041.63 L236.5,1041.45 L238.5,1041.27 L240.5,1041.06 L242.5,1040.85 L244.5,1040.63 L246.5,1040.40 L248.5,1040.15 L250.5,1039.87 L252.5,1039.55 L254.5,1039.16 L256.5,1038.73 L258.5,1038.25 L260.5,1037.75 L262.5,1037.26 L264.5,1036.79 L266.5,1036.36 L268.5,1035.97 L270.5,1035.63 L272.5,1035.32 L274.5,1035.03 L276.5,1034.77 L278.5,1034.54 L280.5,1034.36 L282.5,1034.26 L284.5,1034.26 L286.5,1034.38 L288.5,1034.64 L290.5,1035.02 L292.5,1035.48 L294.5,1035.99 L296.5,1036.54 L298.5,1037.13 L300.5,1037.78 L302.5,1038.44 L304.5,1039.08 L306.5,1039.64 L308.5,1040.11 L310.5,1040.47 L312.5,1040.77 L314.5,1041.02 L316.5,1041.24 L318.5,1041.43 L320.5,1041.60 L322.5,1041.74 L324.5,1041.85 L326.5,1041.92 L328.5,1041.97 L330.5,1041.99 L332.5,1042.00 L334.5,1042.00 L336.5,1042.00 L338.5,1042.00 L340.5,1042.00 L342.5,1041.99 L344.5,1041.99 L346.5,1041.99 L348.5,1041.99 L350.5,1041.99 L352.5,1041.98 L354.5,1041.98 L356.5,1041.98 L358.5,1041.97 L360.5,1041.97 L362.5,1041.97 L364.5,1041.96 L366.5,1041.96 L368.5,1041.96 L370.5,1041.95 L372.5,1041.95 L374.5,1041.94 L376.5,1041.94 L378.5,1041.93 L380.5,1041.93 L382.5,1041.92 L384.5,1041.92 L386.5,1041.91 L388.5,1041.91 L390.5,1041.90 L392.5,1041.90 L394.5,1041.89 L396.5,1041.88 L398.5,1041.88 L400.5,1041.87 L402.5,1041.87 L404.5,1041.86 L406.5,1041.85 L408.5,1041.85 L410.5,1041.84 L412.5,1041.83 L414.5,1041.83 L416.5,1041.82 L418.5,1041.81 L420.5,1041.81 L422.5,1041.80 L424.5,1041.79 L426.5,1041.79 L428.5,1041.78 L430.5,1041.77 L432.5,1041.77 L434.5,1041.76 L436.5,1041.75 L438.5,1041.74 L440.5,1041.74 L442.5,1041.73 L444.5,1041.72 L446.5,1041.72 L448.5,1041.71 L450.5,1041.70 L452.5,1041.70 L454.5,1041.69 L456.5,1041.68 L458.5,1041.68 L460.5,1041.67 L462.5,1041.66 L464.5,1041.66 L466.5,1041.65 L468.5,1041.64 L470.5,1041.64 L472.5,1041.63 L474.5,1041.63 L476.5,1041.62 L478.5,1041.61 L480.5,1041.61 L482.5,1041.60 L484.5,1041.60 L486.5,1041.59 L488.5,1041.58 L490.5,1041.58 L492.5,1041.57 L494.5,1041.57 L496.5,1041.56 L498.5,1041.56 L500.5,1041.56 L502.5,1041.55 L504.5,1041.55 L506.5,1041.54 L508.5,1041.54 L510.5,1041.53 L512.5,1041.53 L514.5,1041.53 L516.5,1041.52 L518.5,1041.52 L520.5,1041.52 L522.5,1041.52 L524.5,1041.51 L526.5,1041.51 L528.5,1041.51 L530.5,1041.51 L532.5,1041.51 L534.5,1041.50 L536.5,1041.50 L538.5,1041.50 L540.5,1041.50 L542.5,1041.50 L544.5,1041.50 L546.5,1041.50 L548.5,1041.50 L550.5,1041.50 L552.5,1041.50 L554.5,1041.50 L556.5,1041.50 L558.5,1041.50 L560.5,1041.50 L562.5,1041.50 L564.5,1041.50 L566.5,1041.50 L568.5,1041.50 L570.5,1041.50 L572.5,1041.50 L574.5,1041.50 L576.5,1041.50 L578.5,1041.50 L580.5,1041.50 L582.5,1041.50 L584.5,1041.50 L586.5,1041.50 L588.5,1041.50 L590.5,1041.50 L592.5,1041.50 L594.5,1041.50 L596.5,1041.50 L598.5,1041.50 L600.5,1041.50 L602.5,1041.50 L604.5,1041.50 L606.5,1041.50 L608.5,1041.50 L610.5,1041.50 L612.5,1041.50 L614.5,1041.50 L616.5,1041.50 L618.5,1041.50 L620.5,1041.50 L622.5,1041.50 L624.5,1041.50 L626.5,1041.50 L628.5,1041.50 L630.5,1041.50 L632.5,1041.50 L634.5,1041.50 L636.5,1041.50 L638.5,1041.50 L640.5,1041.50 L642.5,1041.50 L644.5,1041.50 L646.5,1041.50 L648.5,1041.50 L650.5,1041.50 L652.5,1041.50 L654.5,1041.50 L656.5,1041.50 L658.5,1041.50 L660.5,1041.50 L662.5,1041.50 L664.5,1041.50 L666.5,1041.50 L668.5,1041.50 L670.5,1041.50 L672.5,1041.50 L674.5,1041.50 L676.5,1041.50 L678.5,1041.50 L680.5,1041.50 L682.5,1041.50 L684.5,1041.50 L686.5,1041.50 L688.5,1041.50 L690.5,1041.50 L692.5,1041.50 L694.5,1041.50 L696.5,1041.50 L698.5,1041.50 L700.5,1041.50 L702.5,1041.50 L704.5,1041.50 L706.5,1041.50 L708.5,1041.50 L710.5,1041.50 L712.5,1041.50 L714.5,1041.50 L716.5,1041.50 L718.5,1041.50 L720.5,1041.50 L722.5,1041.50 L724.5,1041.50 L726.5,1041.50 L727.5,1041.50"/>
<rect class="fr" x="114.6" y="619.1" width="612.9" height="495.7"/>
<line class="tk" x1="114.6" y1="1114.8" x2="114.6" y2="1123.8"/>
<text class="tick" x="114.6" y="1153.7">70</text>
<line class="tk" x1="202.2" y1="1114.8" x2="202.2" y2="1123.8"/>
<text class="tick" x="202.2" y="1153.7">80</text>
<line class="tk" x1="289.7" y1="1114.8" x2="289.7" y2="1123.8"/>
<text class="tick" x="289.7" y="1153.7">90</text>
<line class="tk" x1="377.3" y1="1114.8" x2="377.3" y2="1123.8"/>
<text class="tick" x="377.3" y="1153.7">100</text>
<line class="tk" x1="464.8" y1="1114.8" x2="464.8" y2="1123.8"/>
<text class="tick" x="464.8" y="1153.7">110</text>
<line class="tk" x1="552.4" y1="1114.8" x2="552.4" y2="1123.8"/>
<text class="tick" x="552.4" y="1153.7">120</text>
<line class="tk" x1="639.9" y1="1114.8" x2="639.9" y2="1123.8"/>
<text class="tick" x="639.9" y="1153.7">130</text>
<line class="tk" x1="727.5" y1="1114.8" x2="727.5" y2="1123.8"/>
<text class="tick" x="727.5" y="1153.7">140</text>
<text class="lab" x="117.7" y="729.2">10.00<tspan class="dg">℃</tspan>/min</text>
<text class="lab" x="416.1" y="690.3">107<tspan class="dg">℃</tspan></text>
<text class="lab" x="120.2" y="812.6">7.50<tspan class="dg">℃</tspan>/min</text>
<text class="lab" x="393.7" y="776.0">105<tspan class="dg">℃</tspan></text>
<text class="lab" x="118.8" y="885.8">5.00<tspan class="dg">℃</tspan>/min</text>
<text class="lab" x="353.3" y="865.0">99<tspan class="dg">℃</tspan></text>
<text class="lab" x="118.5" y="958.3">2.50<tspan class="dg">℃</tspan>/min</text>
<text class="lab" x="295.0" y="946.1">93<tspan class="dg">℃</tspan></text>
<text class="lab" x="118.1" y="1032.4">1.25<tspan class="dg">℃</tspan>/min</text>
<text class="lab" x="266.1" y="1026.5">89<tspan class="dg">℃</tspan></text>
<text class="ax" x="300.2" y="1191.4">Temperature(℃ )</text>
<text class="yl" transform="translate(98.0,1101.1) rotate(-90)" textLength="358.1" lengthAdjust="spacing">Heat Flow(mW/mg)EXo</text>
<line class="ar" x1="89.4" y1="733.4" x2="89.4" y2="677.0"/>
<path d="M89.4,663.0 L95.8,683.9 L89.4,683.1 L83.0,683.9 Z" fill="#000" stroke="#000" stroke-width="0.6" stroke-linejoin="round"/>
<text class="let" transform="translate(20.6,660.6) scale(1.0,1)">c</text>
</g>
<g id="panel-d">
<path class="cv" d="M866.8,739.80 L868.8,739.80 L870.8,739.80 L872.8,739.80 L874.8,739.80 L876.8,739.79 L878.8,739.79 L880.8,739.79 L882.8,739.79 L884.8,739.78 L886.8,739.78 L888.8,739.77 L890.8,739.77 L892.8,739.76 L894.8,739.76 L896.8,739.75 L898.8,739.74 L900.8,739.74 L902.8,739.73 L904.8,739.72 L906.8,739.71 L908.8,739.71 L910.8,739.70 L912.8,739.69 L914.8,739.68 L916.8,739.67 L918.8,739.66 L920.8,739.65 L922.8,739.64 L924.8,739.63 L926.8,739.62 L928.8,739.60 L930.8,739.59 L932.8,739.58 L934.8,739.57 L936.8,739.56 L938.8,739.54 L940.8,739.53 L942.8,739.52 L944.8,739.50 L946.8,739.49 L948.8,739.47 L950.8,739.46 L952.8,739.45 L954.8,739.43 L956.8,739.42 L958.8,739.40 L960.8,739.38 L962.8,739.36 L964.8,739.34 L966.8,739.32 L968.8,739.29 L970.8,739.26 L972.8,739.23 L974.8,739.20 L976.8,739.16 L978.8,739.12 L980.8,739.08 L982.8,739.04 L984.8,739.00 L986.8,738.95 L988.8,738.91 L990.8,738.86 L992.8,738.81 L994.8,738.76 L996.8,738.71 L998.8,738.66 L1000.8,738.61 L1002.8,738.55 L1004.8,738.50 L1006.8,738.44 L1008.8,738.38 L1010.8,738.32 L1012.8,738.26 L1014.8,738.19 L1016.8,738.12 L1018.8,738.05 L1020.8,737.97 L1022.8,737.89 L1024.8,737.81 L1026.8,737.73 L1028.8,737.64 L1030.8,737.55 L1032.8,737.45 L1034.8,737.36 L1036.8,737.26 L1038.8,737.16 L1040.8,737.05 L1042.8,736.95 L1044.8,736.84 L1046.8,736.73 L1048.8,736.62 L1050.8,736.51 L1052.8,736.39 L1054.8,736.28 L1056.8,736.16 L1058.8,736.03 L1060.8,735.91 L1062.8,735.77 L1064.8,735.64 L1066.8,735.49 L1068.8,735.34 L1070.8,735.19 L1072.8,735.03 L1074.8,734.87 L1076.8,734.70 L1078.8,734.54 L1080.8,734.37 L1082.8,734.19 L1084.8,734.02 L1086.8,733.84 L1088.8,733.67 L1090.8,733.49 L1092.8,733.30 L1094.8,733.11 L1096.8,732.91 L1098.8,732.71 L1100.8,732.50 L1102.8,732.29 L1104.8,732.08 L1106.8,731.86 L1108.8,731.65 L1110.8,731.44 L1112.8,731.23 L1114.8,731.03 L1116.8,730.83 L1118.8,730.64 L1120.8,730.46 L1122.8,730.28 L1124.8,730.11 L1126.8,729.95 L1128.8,729.79 L1130.8,729.63 L1132.8,729.47 L1134.8,729.32 L1136.8,729.18 L1138.8,729.04 L1140.8,728.92 L1142.8,728.80 L1144.8,728.70 L1146.8,728.60 L1148.8,728.52 L1150.8,728.44 L1152.8,728.36 L1154.8,728.30 L1156.8,728.26 L1158.8,728.24 L1160.8,728.26 L1162.8,728.33 L1164.8,728.43 L1166.8,728.58 L1168.8,728.76 L1170.8,728.97 L1172.8,729.21 L1174.8,729.48 L1176.8,729.80 L1178.8,730.18 L1180.8,730.58 L1182.8,731.02 L1184.8,731.46 L1186.8,731.90 L1188.8,732.32 L1190.8,732.74 L1192.8,733.14 L1194.8,733.55 L1196.8,733.95 L1198.8,734.34 L1200.8,734.70 L1202.8,735.02 L1204.8,735.30 L1206.8,735.54 L1208.8,735.74 L1210.8,735.92 L1212.8,736.09 L1214.8,736.24 L1216.8,736.39 L1218.8,736.52 L1220.8,736.64 L1222.8,736.76 L1224.8,736.87 L1226.8,736.98 L1228.8,737.08 L1230.8,737.18 L1232.8,737.27 L1234.8,737.37 L1236.8,737.46 L1238.8,737.55 L1240.8,737.63 L1242.8,737.72 L1244.8,737.79 L1246.8,737.86 L1248.8,737.93 L1250.8,737.98 L1252.8,738.04 L1254.8,738.08 L1256.8,738.12 L1258.8,738.16 L1260.8,738.19 L1262.8,738.22 L1264.8,738.25 L1266.8,738.28 L1268.8,738.31 L1270.8,738.34 L1272.8,738.36 L1274.8,738.39 L1276.8,738.41 L1278.8,738.43 L1280.8,738.45 L1282.8,738.47 L1284.8,738.49 L1286.8,738.51 L1288.8,738.53 L1290.8,738.54 L1292.8,738.56 L1294.8,738.57 L1296.8,738.58 L1298.8,738.59 L1300.8,738.60 L1302.8,738.61 L1304.8,738.62 L1306.8,738.63 L1308.8,738.64 L1310.8,738.65 L1312.8,738.66 L1314.8,738.67 L1316.8,738.68 L1318.8,738.69 L1320.8,738.70 L1322.8,738.71 L1324.8,738.72 L1326.8,738.73 L1328.8,738.74 L1330.8,738.75 L1332.8,738.75 L1334.8,738.76 L1336.8,738.77 L1338.8,738.78 L1340.8,738.79 L1342.8,738.80 L1344.8,738.80 L1346.8,738.81 L1348.8,738.82 L1350.8,738.83 L1352.8,738.84 L1354.8,738.84 L1356.8,738.85 L1358.8,738.86 L1360.8,738.87 L1362.8,738.87 L1364.8,738.88 L1366.8,738.89 L1368.8,738.90 L1370.8,738.90 L1372.8,738.91 L1374.8,738.92 L1376.8,738.92 L1378.8,738.93 L1380.8,738.93 L1382.8,738.94 L1384.8,738.95 L1386.8,738.95 L1388.8,738.96 L1390.8,738.97 L1392.8,738.97 L1394.8,738.98 L1396.8,738.98 L1398.8,738.99 L1400.8,738.99 L1402.8,739.00 L1404.8,739.00 L1406.8,739.01 L1408.8,739.01 L1410.8,739.02 L1412.8,739.02 L1414.8,739.03 L1416.8,739.03 L1418.8,739.03 L1420.8,739.04 L1422.8,739.04 L1424.8,739.05 L1426.8,739.05 L1428.8,739.05 L1430.8,739.06 L1432.8,739.06 L1434.8,739.06 L1436.8,739.07 L1438.8,739.07 L1440.8,739.07 L1442.8,739.07 L1444.8,739.08 L1446.8,739.08 L1448.8,739.08 L1450.8,739.08 L1452.8,739.09 L1454.8,739.09 L1456.8,739.09 L1458.8,739.09 L1460.8,739.09 L1462.8,739.09 L1464.8,739.10 L1466.8,739.10 L1468.8,739.10 L1470.8,739.10 L1472.8,739.10 L1474.8,739.10 L1476.8,739.10 L1478.8,739.10 L1480.8,739.10 L1481.0,739.10"/>
<path class="cv" d="M866.8,817.50 L868.8,817.50 L870.8,817.50 L872.8,817.50 L874.8,817.50 L876.8,817.50 L878.8,817.49 L880.8,817.49 L882.8,817.49 L884.8,817.49 L886.8,817.48 L888.8,817.48 L890.8,817.48 L892.8,817.47 L894.8,817.47 L896.8,817.47 L898.8,817.46 L900.8,817.46 L902.8,817.45 L904.8,817.44 L906.8,817.44 L908.8,817.43 L910.8,817.43 L912.8,817.42 L914.8,817.41 L916.8,817.40 L918.8,817.40 L920.8,817.39 L922.8,817.38 L924.8,817.37 L926.8,817.36 L928.8,817.35 L930.8,817.34 L932.8,817.33 L934.8,817.32 L936.8,817.31 L938.8,817.30 L940.8,817.29 L942.8,817.28 L944.8,817.27 L946.8,817.26 L948.8,817.24 L950.8,817.23 L952.8,817.22 L954.8,817.20 L956.8,817.19 L958.8,817.18 L960.8,817.16 L962.8,817.15 L964.8,817.13 L966.8,817.12 L968.8,817.10 L970.8,817.09 L972.8,817.07 L974.8,817.05 L976.8,817.04 L978.8,817.02 L980.8,817.00 L982.8,816.98 L984.8,816.97 L986.8,816.95 L988.8,816.93 L990.8,816.91 L992.8,816.88 L994.8,816.86 L996.8,816.82 L998.8,816.78 L1000.8,816.73 L1002.8,816.68 L1004.8,816.62 L1006.8,816.56 L1008.8,816.49 L1010.8,816.41 L1012.8,816.33 L1014.8,816.25 L1016.8,816.16 L1018.8,816.07 L1020.8,815.98 L1022.8,815.88 L1024.8,815.78 L1026.8,815.68 L1028.8,815.58 L1030.8,815.47 L1032.8,815.36 L1034.8,815.25 L1036.8,815.15 L1038.8,815.04 L1040.8,814.93 L1042.8,814.81 L1044.8,814.69 L1046.8,814.57 L1048.8,814.44 L1050.8,814.31 L1052.8,814.17 L1054.8,814.03 L1056.8,813.88 L1058.8,813.72 L1060.8,813.55 L1062.8,813.38 L1064.8,813.21 L1066.8,813.03 L1068.8,812.84 L1070.8,812.64 L1072.8,812.43 L1074.8,812.22 L1076.8,811.99 L1078.8,811.74 L1080.8,811.47 L1082.8,811.19 L1084.8,810.90 L1086.8,810.59 L1088.8,810.27 L1090.8,809.94 L1092.8,809.61 L1094.8,809.27 L1096.8,808.92 L1098.8,808.58 L1100.8,808.23 L1102.8,807.88 L1104.8,807.53 L1106.8,807.17 L1108.8,806.79 L1110.8,806.41 L1112.8,806.02 L1114.8,805.62 L1116.8,805.23 L1118.8,804.85 L1120.8,804.47 L1122.8,804.11 L1124.8,803.77 L1126.8,803.43 L1128.8,803.10 L1130.8,802.78 L1132.8,802.47 L1134.8,802.19 L1136.8,801.98 L1138.8,801.83 L1140.8,801.75 L1142.8,801.71 L1144.8,801.70 L1146.8,801.71 L1148.8,801.72 L1150.8,801.78 L1152.8,801.93 L1154.8,802.20 L1156.8,802.60 L1158.8,803.11 L1160.8,803.69 L1162.8,804.30 L1164.8,804.94 L1166.8,805.62 L1168.8,806.32 L1170.8,807.05 L1172.8,807.76 L1174.8,808.44 L1176.8,809.08 L1178.8,809.68 L1180.8,810.25 L1182.8,810.79 L1184.8,811.29 L1186.8,811.73 L1188.8,812.10 L1190.8,812.42 L1192.8,812.70 L1194.8,812.94 L1196.8,813.16 L1198.8,813.36 L1200.8,813.53 L1202.8,813.68 L1204.8,813.81 L1206.8,813.92 L1208.8,814.02 L1210.8,814.11 L1212.8,814.20 L1214.8,814.28 L1216.8,814.36 L1218.8,814.43 L1220.8,814.50 L1222.8,814.57 L1224.8,814.63 L1226.8,814.68 L1228.8,814.73 L1230.8,814.77 L1232.8,814.81 L1234.8,814.84 L1236.8,814.87 L1238.8,814.89 L1240.8,814.91 L1242.8,814.93 L1244.8,814.95 L1246.8,814.96 L1248.8,814.98 L1250.8,814.99 L1252.8,815.00 L1254.8,815.01 L1256.8,815.03 L1258.8,815.04 L1260.8,815.05 L1262.8,815.06 L1264.8,815.07 L1266.8,815.07 L1268.8,815.08 L1270.8,815.09 L1272.8,815.10 L1274.8,815.11 L1276.8,815.11 L1278.8,815.12 L1280.8,815.13 L1282.8,815.13 L1284.8,815.14 L1286.8,815.15 L1288.8,815.16 L1290.8,815.16 L1292.8,815.17 L1294.8,815.18 L1296.8,815.19 L1298.8,815.20 L1300.8,815.20 L1302.8,815.21 L1304.8,815.22 L1306.8,815.23 L1308.8,815.24 L1310.8,815.25 L1312.8,815.26 L1314.8,815.26 L1316.8,815.27 L1318.8,815.28 L1320.8,815.29 L1322.8,815.30 L1324.8,815.31 L1326.8,815.32 L1328.8,815.33 L1330.8,815.33 L1332.8,815.34 L1334.8,815.35 L1336.8,815.36 L1338.8,815.37 L1340.8,815.38 L1342.8,815.39 L1344.8,815.39 L1346.8,815.40 L1348.8,815.41 L1350.8,815.42 L1352.8,815.43 L1354.8,815.44 L1356.8,815.44 L1358.8,815.45 L1360.8,815.46 L1362.8,815.47 L1364.8,815.48 L1366.8,815.49 L1368.8,815.49 L1370.8,815.50 L1372.8,815.51 L1374.8,815.52 L1376.8,815.53 L1378.8,815.53 L1380.8,815.54 L1382.8,815.55 L1384.8,815.56 L1386.8,815.57 L1388.8,815.57 L1390.8,815.58 L1392.8,815.59 L1394.8,815.60 L1396.8,815.60 L1398.8,815.61 L1400.8,815.62 L1402.8,815.63 L1404.8,815.64 L1406.8,815.64 L1408.8,815.65 L1410.8,815.66 L1412.8,815.67 L1414.8,815.67 L1416.8,815.68 L1418.8,815.69 L1420.8,815.70 L1422.8,815.70 L1424.8,815.71 L1426.8,815.72 L1428.8,815.72 L1430.8,815.73 L1432.8,815.74 L1434.8,815.75 L1436.8,815.75 L1438.8,815.76 L1440.8,815.77 L1442.8,815.77 L1444.8,815.78 L1446.8,815.79 L1448.8,815.80 L1450.8,815.80 L1452.8,815.81 L1454.8,815.82 L1456.8,815.82 L1458.8,815.83 L1460.8,815.84 L1462.8,815.84 L1464.8,815.85 L1466.8,815.86 L1468.8,815.86 L1470.8,815.87 L1472.8,815.87 L1474.8,815.88 L1476.8,815.89 L1478.8,815.89 L1480.8,815.90 L1481.0,815.90"/>
<path class="cv" d="M866.8,893.40 L868.8,893.40 L870.8,893.40 L872.8,893.40 L874.8,893.40 L876.8,893.40 L878.8,893.39 L880.8,893.39 L882.8,893.39 L884.8,893.39 L886.8,893.39 L888.8,893.38 L890.8,893.38 L892.8,893.38 L894.8,893.37 L896.8,893.37 L898.8,893.36 L900.8,893.36 L902.8,893.36 L904.8,893.35 L906.8,893.35 L908.8,893.34 L910.8,893.33 L912.8,893.33 L914.8,893.32 L916.8,893.31 L918.8,893.31 L920.8,893.30 L922.8,893.29 L924.8,893.29 L926.8,893.28 L928.8,893.27 L930.8,893.26 L932.8,893.25 L934.8,893.24 L936.8,893.23 L938.8,893.22 L940.8,893.21 L942.8,893.20 L944.8,893.19 L946.8,893.18 L948.8,893.17 L950.8,893.16 L952.8,893.15 L954.8,893.14 L956.8,893.12 L958.8,893.11 L960.8,893.10 L962.8,893.09 L964.8,893.07 L966.8,893.06 L968.8,893.05 L970.8,893.03 L972.8,893.02 L974.8,893.00 L976.8,892.98 L978.8,892.96 L980.8,892.93 L982.8,892.90 L984.8,892.86 L986.8,892.82 L988.8,892.77 L990.8,892.72 L992.8,892.67 L994.8,892.61 L996.8,892.54 L998.8,892.48 L1000.8,892.41 L1002.8,892.33 L1004.8,892.26 L1006.8,892.18 L1008.8,892.10 L1010.8,892.02 L1012.8,891.93 L1014.8,891.85 L1016.8,891.76 L1018.8,891.67 L1020.8,891.58 L1022.8,891.49 L1024.8,891.40 L1026.8,891.30 L1028.8,891.20 L1030.8,891.09 L1032.8,890.98 L1034.8,890.86 L1036.8,890.73 L1038.8,890.60 L1040.8,890.47 L1042.8,890.32 L1044.8,890.18 L1046.8,890.02 L1048.8,889.86 L1050.8,889.70 L1052.8,889.53 L1054.8,889.36 L1056.8,889.18 L1058.8,888.99 L1060.8,888.79 L1062.8,888.57 L1064.8,888.34 L1066.8,888.09 L1068.8,887.83 L1070.8,887.57 L1072.8,887.30 L1074.8,887.03 L1076.8,886.76 L1078.8,886.49 L1080.8,886.23 L1082.8,885.96 L1084.8,885.70 L1086.8,885.42 L1088.8,885.15 L1090.8,884.86 L1092.8,884.59 L1094.8,884.35 L1096.8,884.13 L1098.8,883.96 L1100.8,883.83 L1102.8,883.73 L1104.8,883.65 L1106.8,883.60 L1108.8,883.56 L1110.8,883.56 L1112.8,883.61 L1114.8,883.74 L1116.8,883.96 L1118.8,884.24 L1120.8,884.59 L1122.8,884.97 L1124.8,885.40 L1126.8,885.89 L1128.8,886.43 L1130.8,887.00 L1132.8,887.58 L1134.8,888.12 L1136.8,888.62 L1138.8,889.09 L1140.8,889.51 L1142.8,889.91 L1144.8,890.27 L1146.8,890.57 L1148.8,890.82 L1150.8,891.02 L1152.8,891.17 L1154.8,891.30 L1156.8,891.42 L1158.8,891.52 L1160.8,891.61 L1162.8,891.69 L1164.8,891.77 L1166.8,891.83 L1168.8,891.89 L1170.8,891.94 L1172.8,891.99 L1174.8,892.03 L1176.8,892.07 L1178.8,892.11 L1180.8,892.15 L1182.8,892.19 L1184.8,892.22 L1186.8,892.26 L1188.8,892.29 L1190.8,892.32 L1192.8,892.35 L1194.8,892.38 L1196.8,892.41 L1198.8,892.44 L1200.8,892.46 L1202.8,892.48 L1204.8,892.50 L1206.8,892.52 L1208.8,892.54 L1210.8,892.56 L1212.8,892.57 L1214.8,892.58 L1216.8,892.59 L1218.8,892.59 L1220.8,892.60 L1222.8,892.60 L1224.8,892.60 L1226.8,892.60 L1228.8,892.60 L1230.8,892.60 L1232.8,892.60 L1234.8,892.60 L1236.8,892.60 L1238.8,892.60 L1240.8,892.60 L1242.8,892.60 L1244.8,892.60 L1246.8,892.60 L1248.8,892.60 L1250.8,892.60 L1252.8,892.60 L1254.8,892.60 L1256.8,892.60 L1258.8,892.60 L1260.8,892.60 L1262.8,892.60 L1264.8,892.60 L1266.8,892.60 L1268.8,892.60 L1270.8,892.60 L1272.8,892.60 L1274.8,892.60 L1276.8,892.60 L1278.8,892.60 L1280.8,892.60 L1282.8,892.60 L1284.8,892.60 L1286.8,892.60 L1288.8,892.60 L1290.8,892.60 L1292.8,892.60 L1294.8,892.60 L1296.8,892.60 L1298.8,892.60 L1300.8,892.60 L1302.8,892.60 L1304.8,892.60 L1306.8,892.60 L1308.8,892.60 L1310.8,892.60 L1312.8,892.60 L1314.8,892.59 L1316.8,892.59 L1318.8,892.59 L1320.8,892.59 L1322.8,892.59 L1324.8,892.59 L1326.8,892.58 L1328.8,892.58 L1330.8,892.58 L1332.8,892.58 L1334.8,892.57 L1336.8,892.57 L1338.8,892.57 L1340.8,892.56 L1342.8,892.56 L1344.8,892.55 L1346.8,892.55 L1348.8,892.55 L1350.8,892.54 L1352.8,892.54 L1354.8,892.53 L1356.8,892.53 L1358.8,892.52 L1360.8,892.52 L1362.8,892.51 L1364.8,892.51 L1366.8,892.50 L1368.8,892.50 L1370.8,892.49 L1372.8,892.49 L1374.8,892.48 L1376.8,892.47 L1378.8,892.47 L1380.8,892.46 L1382.8,892.45 L1384.8,892.45 L1386.8,892.44 L1388.8,892.43 L1390.8,892.43 L1392.8,892.42 L1394.8,892.41 L1396.8,892.40 L1398.8,892.40 L1400.8,892.39 L1402.8,892.38 L1404.8,892.37 L1406.8,892.37 L1408.8,892.36 L1410.8,892.35 L1412.8,892.34 L1414.8,892.33 L1416.8,892.32 L1418.8,892.31 L1420.8,892.31 L1422.8,892.30 L1424.8,892.29 L1426.8,892.28 L1428.8,892.27 L1430.8,892.26 L1432.8,892.25 L1434.8,892.24 L1436.8,892.23 L1438.8,892.22 L1440.8,892.21 L1442.8,892.20 L1444.8,892.19 L1446.8,892.18 L1448.8,892.17 L1450.8,892.16 L1452.8,892.15 L1454.8,892.14 L1456.8,892.13 L1458.8,892.12 L1460.8,892.11 L1462.8,892.10 L1464.8,892.09 L1466.8,892.08 L1468.8,892.07 L1470.8,892.06 L1472.8,892.05 L1474.8,892.03 L1476.8,892.02 L1478.8,892.01 L1480.8,892.01 L1481.0,892.01"/>
<path class="cv" d="M866.8,969.80 L868.8,969.80 L870.8,969.80 L872.8,969.80 L874.8,969.79 L876.8,969.79 L878.8,969.79 L880.8,969.78 L882.8,969.78 L884.8,969.77 L886.8,969.77 L888.8,969.76 L890.8,969.75 L892.8,969.74 L894.8,969.74 L896.8,969.73 L898.8,969.72 L900.8,969.71 L902.8,969.70 L904.8,969.69 L906.8,969.67 L908.8,969.66 L910.8,969.65 L912.8,969.64 L914.8,969.62 L916.8,969.61 L918.8,969.59 L920.8,969.58 L922.8,969.56 L924.8,969.54 L926.8,969.53 L928.8,969.51 L930.8,969.49 L932.8,969.47 L934.8,969.46 L936.8,969.44 L938.8,969.42 L940.8,969.40 L942.8,969.38 L944.8,969.36 L946.8,969.34 L948.8,969.31 L950.8,969.29 L952.8,969.27 L954.8,969.25 L956.8,969.22 L958.8,969.20 L960.8,969.17 L962.8,969.14 L964.8,969.11 L966.8,969.07 L968.8,969.02 L970.8,968.98 L972.8,968.93 L974.8,968.87 L976.8,968.81 L978.8,968.75 L980.8,968.69 L982.8,968.62 L984.8,968.55 L986.8,968.47 L988.8,968.39 L990.8,968.31 L992.8,968.23 L994.8,968.14 L996.8,968.05 L998.8,967.96 L1000.8,967.87 L1002.8,967.77 L1004.8,967.67 L1006.8,967.57 L1008.8,967.46 L1010.8,967.35 L1012.8,967.22 L1014.8,967.08 L1016.8,966.92 L1018.8,966.76 L1020.8,966.59 L1022.8,966.41 L1024.8,966.22 L1026.8,966.03 L1028.8,965.83 L1030.8,965.63 L1032.8,965.43 L1034.8,965.22 L1036.8,965.02 L1038.8,964.80 L1040.8,964.58 L1042.8,964.34 L1044.8,964.09 L1046.8,963.84 L1048.8,963.59 L1050.8,963.34 L1052.8,963.11 L1054.8,962.90 L1056.8,962.70 L1058.8,962.53 L1060.8,962.37 L1062.8,962.22 L1064.8,962.10 L1066.8,962.01 L1068.8,961.99 L1070.8,962.03 L1072.8,962.16 L1074.8,962.35 L1076.8,962.61 L1078.8,962.93 L1080.8,963.33 L1082.8,963.82 L1084.8,964.36 L1086.8,964.90 L1088.8,965.40 L1090.8,965.81 L1092.8,966.15 L1094.8,966.42 L1096.8,966.67 L1098.8,966.88 L1100.8,967.06 L1102.8,967.22 L1104.8,967.35 L1106.8,967.46 L1108.8,967.55 L1110.8,967.63 L1112.8,967.69 L1114.8,967.76 L1116.8,967.82 L1118.8,967.88 L1120.8,967.93 L1122.8,967.98 L1124.8,968.02 L1126.8,968.06 L1128.8,968.10 L1130.8,968.13 L1132.8,968.15 L1134.8,968.17 L1136.8,968.18 L1138.8,968.19 L1140.8,968.20 L1142.8,968.20 L1144.8,968.20 L1146.8,968.20 L1148.8,968.20 L1150.8,968.20 L1152.8,968.20 L1154.8,968.20 L1156.8,968.20 L1158.8,968.20 L1160.8,968.20 L1162.8,968.20 L1164.8,968.20 L1166.8,968.20 L1168.8,968.20 L1170.8,968.20 L1172.8,968.20 L1174.8,968.20 L1176.8,968.20 L1178.8,968.20 L1180.8,968.20 L1182.8,968.20 L1184.8,968.20 L1186.8,968.20 L1188.8,968.20 L1190.8,968.20 L1192.8,968.20 L1194.8,968.20 L1196.8,968.20 L1198.8,968.20 L1200.8,968.20 L1202.8,968.20 L1204.8,968.20 L1206.8,968.20 L1208.8,968.20 L1210.8,968.20 L1212.8,968.20 L1214.8,968.20 L1216.8,968.20 L1218.8,968.20 L1220.8,968.20 L1222.8,968.20 L1224.8,968.20 L1226.8,968.20 L1228.8,968.20 L1230.8,968.20 L1232.8,968.20 L1234.8,968.20 L1236.8,968.20 L1238.8,968.20 L1240.8,968.20 L1242.8,968.20 L1244.8,968.20 L1246.8,968.20 L1248.8,968.20 L1250.8,968.20 L1252.8,968.20 L1254.8,968.20 L1256.8,968.20 L1258.8,968.20 L1260.8,968.20 L1262.8,968.20 L1264.8,968.20 L1266.8,968.20 L1268.8,968.20 L1270.8,968.20 L1272.8,968.20 L1274.8,968.20 L1276.8,968.20 L1278.8,968.20 L1280.8,968.20 L1282.8,968.20 L1284.8,968.20 L1286.8,968.20 L1288.8,968.20 L1290.8,968.20 L1292.8,968.20 L1294.8,968.20 L1296.8,968.20 L1298.8,968.20 L1300.8,968.20 L1302.8,968.20 L1304.8,968.20 L1306.8,968.20 L1308.8,968.20 L1310.8,968.19 L1312.8,968.19 L1314.8,968.19 L1316.8,968.19 L1318.8,968.18 L1320.8,968.18 L1322.8,968.18 L1324.8,968.17 L1326.8,968.17 L1328.8,968.16 L1330.8,968.16 L1332.8,968.15 L1334.8,968.15 L1336.8,968.14 L1338.8,968.14 L1340.8,968.13 L1342.8,968.12 L1344.8,968.12 L1346.8,968.11 L1348.8,968.10 L1350.8,968.09 L1352.8,968.09 L1354.8,968.08 L1356.8,968.07 L1358.8,968.06 L1360.8,968.05 L1362.8,968.04 L1364.8,968.03 L1366.8,968.02 L1368.8,968.01 L1370.8,968.00 L1372.8,967.99 L1374.8,967.98 L1376.8,967.97 L1378.8,967.96 L1380.8,967.95 L1382.8,967.94 L1384.8,967.93 L1386.8,967.91 L1388.8,967.90 L1390.8,967.89 L1392.8,967.88 L1394.8,967.86 L1396.8,967.85 L1398.8,967.84 L1400.8,967.83 L1402.8,967.81 L1404.8,967.80 L1406.8,967.78 L1408.8,967.77 L1410.8,967.76 L1412.8,967.74 L1414.8,967.73 L1416.8,967.71 L1418.8,967.70 L1420.8,967.68 L1422.8,967.67 L1424.8,967.66 L1426.8,967.64 L1428.8,967.63 L1430.8,967.61 L1432.8,967.59 L1434.8,967.58 L1436.8,967.56 L1438.8,967.55 L1440.8,967.53 L1442.8,967.52 L1444.8,967.50 L1446.8,967.48 L1448.8,967.47 L1450.8,967.45 L1452.8,967.44 L1454.8,967.42 L1456.8,967.40 L1458.8,967.39 L1460.8,967.37 L1462.8,967.35 L1464.8,967.34 L1466.8,967.32 L1468.8,967.30 L1470.8,967.29 L1472.8,967.27 L1474.8,967.25 L1476.8,967.24 L1478.8,967.22 L1480.8,967.21 L1481.0,967.21"/>
<path class="cv" d="M866.8,1044.00 L868.8,1044.00 L870.8,1044.00 L872.8,1044.00 L874.8,1043.99 L876.8,1043.99 L878.8,1043.99 L880.8,1043.98 L882.8,1043.98 L884.8,1043.97 L886.8,1043.96 L888.8,1043.95 L890.8,1043.95 L892.8,1043.94 L894.8,1043.93 L896.8,1043.92 L898.8,1043.91 L900.8,1043.90 L902.8,1043.88 L904.8,1043.87 L906.8,1043.86 L908.8,1043.84 L910.8,1043.83 L912.8,1043.81 L914.8,1043.80 L916.8,1043.78 L918.8,1043.76 L920.8,1043.74 L922.8,1043.73 L924.8,1043.71 L926.8,1043.69 L928.8,1043.67 L930.8,1043.65 L932.8,1043.62 L934.8,1043.60 L936.8,1043.58 L938.8,1043.56 L940.8,1043.53 L942.8,1043.51 L944.8,1043.49 L946.8,1043.46 L948.8,1043.44 L950.8,1043.41 L952.8,1043.38 L954.8,1043.36 L956.8,1043.33 L958.8,1043.30 L960.8,1043.26 L962.8,1043.22 L964.8,1043.18 L966.8,1043.13 L968.8,1043.07 L970.8,1043.01 L972.8,1042.94 L974.8,1042.86 L976.8,1042.79 L978.8,1042.70 L980.8,1042.61 L982.8,1042.52 L984.8,1042.43 L986.8,1042.33 L988.8,1042.22 L990.8,1042.12 L992.8,1042.01 L994.8,1041.90 L996.8,1041.78 L998.8,1041.66 L1000.8,1041.52 L1002.8,1041.36 L1004.8,1041.18 L1006.8,1041.00 L1008.8,1040.80 L1010.8,1040.61 L1012.8,1040.43 L1014.8,1040.26 L1016.8,1040.11 L1018.8,1039.97 L1020.8,1039.85 L1022.8,1039.73 L1024.8,1039.62 L1026.8,1039.54 L1028.8,1039.48 L1030.8,1039.48 L1032.8,1039.53 L1034.8,1039.66 L1036.8,1039.85 L1038.8,1040.09 L1040.8,1040.37 L1042.8,1040.69 L1044.8,1041.05 L1046.8,1041.43 L1048.8,1041.81 L1050.8,1042.16 L1052.8,1042.44 L1054.8,1042.64 L1056.8,1042.79 L1058.8,1042.90 L1060.8,1042.99 L1062.8,1043.07 L1064.8,1043.14 L1066.8,1043.19 L1068.8,1043.23 L1070.8,1043.26 L1072.8,1043.28 L1074.8,1043.29 L1076.8,1043.30 L1078.8,1043.29 L1080.8,1043.29 L1082.8,1043.28 L1084.8,1043.27 L1086.8,1043.27 L1088.8,1043.26 L1090.8,1043.24 L1092.8,1043.23 L1094.8,1043.22 L1096.8,1043.21 L1098.8,1043.19 L1100.8,1043.18 L1102.8,1043.16 L1104.8,1043.14 L1106.8,1043.13 L1108.8,1043.11 L1110.8,1043.10 L1112.8,1043.08 L1114.8,1043.07 L1116.8,1043.05 L1118.8,1043.03 L1120.8,1043.02 L1122.8,1043.01 L1124.8,1042.99 L1126.8,1042.98 L1128.8,1042.97 L1130.8,1042.95 L1132.8,1042.94 L1134.8,1042.93 L1136.8,1042.91 L1138.8,1042.90 L1140.8,1042.88 L1142.8,1042.87 L1144.8,1042.86 L1146.8,1042.84 L1148.8,1042.83 L1150.8,1042.81 L1152.8,1042.80 L1154.8,1042.78 L1156.8,1042.77 L1158.8,1042.75 L1160.8,1042.74 L1162.8,1042.72 L1164.8,1042.71 L1166.8,1042.69 L1168.8,1042.68 L1170.8,1042.66 L1172.8,1042.65 L1174.8,1042.63 L1176.8,1042.62 L1178.8,1042.60 L1180.8,1042.59 L1182.8,1042.57 L1184.8,1042.56 L1186.8,1042.54 L1188.8,1042.53 L1190.8,1042.51 L1192.8,1042.49 L1194.8,1042.48 L1196.8,1042.46 L1198.8,1042.45 L1200.8,1042.43 L1202.8,1042.42 L1204.8,1042.40 L1206.8,1042.38 L1208.8,1042.37 L1210.8,1042.35 L1212.8,1042.34 L1214.8,1042.32 L1216.8,1042.31 L1218.8,1042.29 L1220.8,1042.28 L1222.8,1042.26 L1224.8,1042.24 L1226.8,1042.23 L1228.8,1042.21 L1230.8,1042.20 L1232.8,1042.18 L1234.8,1042.17 L1236.8,1042.15 L1238.8,1042.14 L1240.8,1042.12 L1242.8,1042.10 L1244.8,1042.09 L1246.8,1042.07 L1248.8,1042.06 L1250.8,1042.04 L1252.8,1042.03 L1254.8,1042.01 L1256.8,1042.00 L1258.8,1041.98 L1260.8,1041.97 L1262.8,1041.96 L1264.8,1041.94 L1266.8,1041.93 L1268.8,1041.91 L1270.8,1041.90 L1272.8,1041.88 L1274.8,1041.87 L1276.8,1041.85 L1278.8,1041.84 L1280.8,1041.83 L1282.8,1041.81 L1284.8,1041.80 L1286.8,1041.79 L1288.8,1041.77 L1290.8,1041.76 L1292.8,1041.75 L1294.8,1041.73 L1296.8,1041.72 L1298.8,1041.71 L1300.8,1041.70 L1302.8,1041.68 L1304.8,1041.67 L1306.8,1041.66 L1308.8,1041.64 L1310.8,1041.63 L1312.8,1041.62 L1314.8,1041.61 L1316.8,1041.59 L1318.8,1041.58 L1320.8,1041.57 L1322.8,1041.56 L1324.8,1041.55 L1326.8,1041.53 L1328.8,1041.52 L1330.8,1041.51 L1332.8,1041.50 L1334.8,1041.48 L1336.8,1041.47 L1338.8,1041.46 L1340.8,1041.45 L1342.8,1041.44 L1344.8,1041.42 L1346.8,1041.41 L1348.8,1041.40 L1350.8,1041.39 L1352.8,1041.38 L1354.8,1041.37 L1356.8,1041.35 L1358.8,1041.34 L1360.8,1041.33 L1362.8,1041.32 L1364.8,1041.31 L1366.8,1041.30 L1368.8,1041.28 L1370.8,1041.27 L1372.8,1041.26 L1374.8,1041.25 L1376.8,1041.24 L1378.8,1041.23 L1380.8,1041.22 L1382.8,1041.20 L1384.8,1041.19 L1386.8,1041.18 L1388.8,1041.17 L1390.8,1041.16 L1392.8,1041.15 L1394.8,1041.14 L1396.8,1041.13 L1398.8,1041.12 L1400.8,1041.10 L1402.8,1041.09 L1404.8,1041.08 L1406.8,1041.07 L1408.8,1041.06 L1410.8,1041.05 L1412.8,1041.04 L1414.8,1041.03 L1416.8,1041.02 L1418.8,1041.01 L1420.8,1041.00 L1422.8,1040.99 L1424.8,1040.98 L1426.8,1040.97 L1428.8,1040.96 L1430.8,1040.94 L1432.8,1040.93 L1434.8,1040.92 L1436.8,1040.91 L1438.8,1040.90 L1440.8,1040.89 L1442.8,1040.88 L1444.8,1040.87 L1446.8,1040.86 L1448.8,1040.85 L1450.8,1040.84 L1452.8,1040.83 L1454.8,1040.82 L1456.8,1040.81 L1458.8,1040.80 L1460.8,1040.80 L1462.8,1040.79 L1464.8,1040.78 L1466.8,1040.77 L1468.8,1040.76 L1470.8,1040.75 L1472.8,1040.74 L1474.8,1040.73 L1476.8,1040.72 L1478.8,1040.71 L1480.8,1040.71 L1481.0,1040.71"/>
<rect class="fr" x="866.7" y="619.9" width="614.3" height="490.4"/>
<line class="tk" x1="866.7" y1="1110.3" x2="866.7" y2="1119.3"/>
<text class="tick" x="866.7" y="1149.4">70</text>
<line class="tk" x1="954.5" y1="1110.3" x2="954.5" y2="1119.3"/>
<text class="tick" x="954.5" y="1149.4">80</text>
<line class="tk" x1="1042.2" y1="1110.3" x2="1042.2" y2="1119.3"/>
<text class="tick" x="1042.2" y="1149.4">90</text>
<line class="tk" x1="1130.0" y1="1110.3" x2="1130.0" y2="1119.3"/>
<text class="tick" x="1130.0" y="1149.4">100</text>
<line class="tk" x1="1217.7" y1="1110.3" x2="1217.7" y2="1119.3"/>
<text class="tick" x="1217.7" y="1149.4">110</text>
<line class="tk" x1="1305.5" y1="1110.3" x2="1305.5" y2="1119.3"/>
<text class="tick" x="1305.5" y="1149.4">120</text>
<line class="tk" x1="1393.2" y1="1110.3" x2="1393.2" y2="1119.3"/>
<text class="tick" x="1393.2" y="1149.4">130</text>
<line class="tk" x1="1481.0" y1="1110.3" x2="1481.0" y2="1119.3"/>
<text class="tick" x="1481.0" y="1149.4">140</text>
<text class="lab" x="874.7" y="732.5">10.00<tspan class="dg">℃</tspan>/min</text>
<text class="lab" x="1139.8" y="720.0">103<tspan class="dg">℃</tspan></text>
<text class="lab" x="878.1" y="806.0">7.50<tspan class="dg">℃</tspan>/min</text>
<text class="lab" x="1120.0" y="795.1">102<tspan class="dg">℃</tspan></text>
<text class="lab" x="875.5" y="885.8">5.00<tspan class="dg">℃</tspan>/min</text>
<text class="lab" x="1092.2" y="874.9">97<tspan class="dg">℃</tspan></text>
<text class="lab" x="875.2" y="960.6">2.50<tspan class="dg">℃</tspan>/min</text>
<text class="lab" x="1048.3" y="956.6">93<tspan class="dg">℃</tspan></text>
<text class="lab" x="875.2" y="1035.1">1.25<tspan class="dg">℃</tspan>/min</text>
<text class="lab" x="1012.2" y="1029.8">88<tspan class="dg">℃</tspan></text>
<text class="ax" x="1052.2" y="1189.4">Temperature(℃ )</text>
<text class="yl" transform="translate(850.1,1095.3) rotate(-90)" textLength="351.3" lengthAdjust="spacing">Heat Flow(mW/mg)EXo</text>
<line class="ar" x1="842.3" y1="737.0" x2="842.3" y2="682.2"/>
<path d="M842.3,668.2 L848.7,689.1 L842.3,688.3 L835.9,689.1 Z" fill="#000" stroke="#000" stroke-width="0.6" stroke-linejoin="round"/>
<text class="let" transform="translate(779.5,660.3) scale(1.0,1)">d</text>
</g>
</svg></body></html>
